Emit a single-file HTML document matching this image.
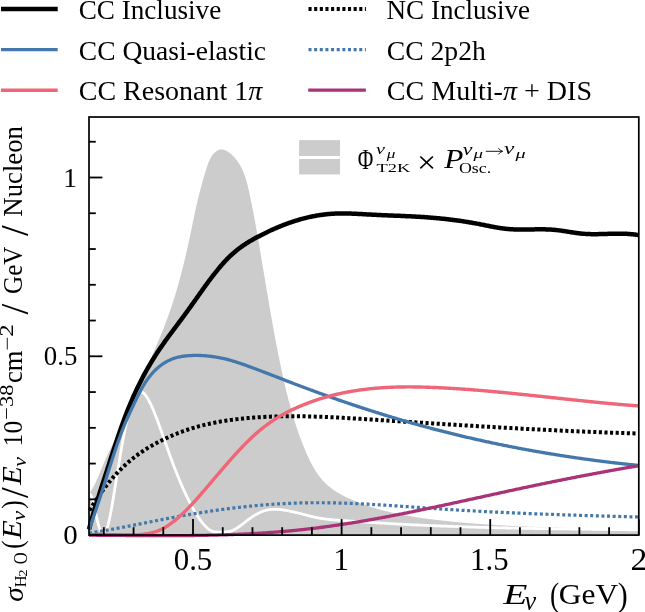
<!DOCTYPE html>
<html><head><meta charset="utf-8"><style>
html,body{margin:0;padding:0;background:#fff;}
body{width:645px;height:612px;overflow:hidden;position:relative;}
svg{position:absolute;left:0;top:0;will-change:transform;}
text{font-family:"Liberation Serif", serif;fill:#000;}
</style></head><body>
<svg width="645" height="612" viewBox="0 0 645 612">
<defs><clipPath id="ax"><rect x="89" y="117" width="549.8" height="418.1"/></clipPath></defs>
<g clip-path="url(#ax)">
<path d="M89.00 535.10 L89.34 493.74 L89.73 493.14 L90.10 492.54 L90.47 491.94 L90.83 491.34 L91.19 490.73 L91.54 490.13 L91.88 489.53 L92.22 488.93 L92.56 488.33 L92.88 487.73 L93.21 487.13 L93.53 486.53 L93.84 485.93 L94.15 485.33 L94.45 484.73 L94.76 484.13 L95.05 483.53 L95.34 482.93 L95.63 482.33 L95.92 481.73 L96.20 481.13 L96.48 480.53 L96.75 479.93 L97.02 479.33 L97.29 478.73 L97.56 478.13 L97.82 477.54 L98.08 476.94 L98.34 476.34 L98.60 475.74 L98.86 475.14 L99.11 474.54 L99.36 473.94 L99.61 473.35 L99.86 472.75 L100.11 472.15 L100.35 471.55 L100.60 470.95 L100.84 470.36 L101.09 469.76 L101.33 469.16 L101.58 468.56 L101.82 467.96 L102.07 467.37 L102.31 466.77 L102.55 466.17 L102.80 465.58 L103.05 464.98 L103.29 464.38 L103.54 463.78 L103.79 463.19 L104.04 462.59 L104.29 461.99 L104.55 461.40 L104.80 460.80 L105.06 460.20 L105.32 459.61 L105.58 459.01 L105.85 458.41 L106.11 457.82 L106.38 457.22 L106.66 456.62 L106.93 456.03 L107.21 455.43 L107.49 454.83 L107.77 454.24 L108.05 453.64 L108.34 453.04 L108.63 452.45 L108.92 451.85 L109.21 451.26 L109.50 450.66 L109.80 450.06 L110.10 449.47 L110.39 448.87 L110.69 448.28 L111.00 447.68 L111.30 447.08 L111.60 446.49 L111.90 445.89 L112.21 445.30 L112.52 444.70 L112.82 444.10 L113.13 443.51 L113.44 442.91 L113.75 442.32 L114.06 441.72 L114.36 441.13 L114.67 440.53 L114.98 439.93 L115.29 439.34 L115.60 438.74 L115.91 438.15 L116.22 437.55 L116.53 436.96 L116.84 436.36 L117.15 435.76 L117.45 435.17 L117.76 434.57 L118.06 433.98 L118.37 433.38 L118.67 432.79 L118.98 432.19 L119.28 431.59 L119.58 431.00 L119.88 430.40 L120.18 429.81 L120.47 429.21 L120.77 428.62 L121.06 428.02 L121.35 427.42 L121.64 426.83 L121.93 426.23 L122.22 425.64 L122.50 425.04 L122.78 424.44 L123.06 423.85 L123.34 423.25 L123.61 422.66 L123.88 422.06 L124.15 421.46 L124.42 420.87 L124.69 420.27 L124.95 419.67 L125.21 419.08 L125.47 418.48 L125.72 417.89 L125.97 417.29 L126.23 416.69 L126.48 416.10 L126.73 415.50 L126.97 414.90 L127.22 414.31 L127.46 413.71 L127.71 413.11 L127.95 412.52 L128.19 411.92 L128.43 411.32 L128.67 410.72 L128.91 410.13 L129.14 409.53 L129.38 408.93 L129.62 408.34 L129.85 407.74 L130.09 407.14 L130.33 406.54 L130.56 405.95 L130.80 405.35 L131.03 404.75 L131.27 404.15 L131.51 403.56 L131.74 402.96 L131.98 402.36 L132.22 401.76 L132.46 401.16 L132.70 400.57 L132.94 399.97 L133.18 399.37 L133.42 398.77 L133.67 398.17 L133.91 397.57 L134.16 396.97 L134.40 396.38 L134.65 395.78 L134.90 395.18 L135.14 394.58 L135.39 393.98 L135.64 393.38 L135.89 392.78 L136.14 392.18 L136.40 391.58 L136.65 390.98 L136.90 390.38 L137.15 389.78 L137.41 389.18 L137.66 388.58 L137.92 387.98 L138.17 387.38 L138.43 386.78 L138.69 386.18 L138.94 385.58 L139.20 384.98 L139.46 384.38 L139.72 383.78 L139.98 383.18 L140.24 382.58 L140.50 381.97 L140.76 381.37 L141.02 380.77 L141.28 380.17 L141.55 379.57 L141.81 378.97 L142.07 378.36 L142.33 377.76 L142.60 377.16 L142.86 376.56 L143.13 375.95 L143.39 375.35 L143.65 374.75 L143.92 374.14 L144.18 373.54 L144.45 372.94 L144.72 372.33 L144.98 371.73 L145.25 371.13 L145.51 370.52 L145.78 369.92 L146.05 369.31 L146.31 368.71 L146.58 368.11 L146.85 367.50 L147.11 366.90 L147.38 366.29 L147.65 365.69 L147.92 365.08 L148.18 364.47 L148.45 363.87 L148.72 363.26 L148.98 362.66 L149.25 362.05 L149.52 361.44 L149.79 360.84 L150.05 360.23 L150.32 359.62 L150.59 359.02 L150.85 358.41 L151.12 357.80 L151.39 357.20 L151.65 356.59 L151.92 355.98 L152.19 355.37 L152.45 354.76 L152.72 354.15 L152.98 353.55 L153.25 352.94 L153.51 352.33 L153.78 351.72 L154.04 351.11 L154.31 350.50 L154.57 349.89 L154.83 349.28 L155.10 348.67 L155.36 348.06 L155.62 347.45 L155.88 346.84 L156.14 346.23 L156.41 345.62 L156.67 345.00 L156.93 344.39 L157.19 343.78 L157.45 343.17 L157.71 342.56 L157.96 341.94 L158.22 341.33 L158.48 340.72 L158.74 340.10 L158.99 339.49 L159.25 338.88 L159.50 338.26 L159.76 337.65 L160.01 337.04 L160.27 336.42 L160.52 335.81 L160.77 335.19 L161.02 334.58 L161.27 333.96 L161.52 333.35 L161.77 332.73 L162.02 332.11 L162.27 331.50 L162.52 330.88 L162.76 330.26 L163.01 329.65 L163.26 329.03 L163.50 328.41 L163.74 327.79 L163.99 327.18 L164.23 326.56 L164.47 325.94 L164.71 325.32 L164.95 324.70 L165.19 324.08 L165.42 323.46 L165.66 322.84 L165.89 322.22 L166.13 321.60 L166.36 320.98 L166.59 320.36 L166.83 319.74 L167.06 319.12 L167.29 318.50 L167.51 317.88 L167.74 317.25 L167.97 316.63 L168.19 316.01 L168.42 315.39 L168.64 314.76 L168.86 314.14 L169.08 313.52 L169.30 312.89 L169.52 312.27 L169.74 311.64 L169.96 311.02 L170.17 310.39 L170.39 309.77 L170.60 309.14 L170.82 308.52 L171.03 307.89 L171.24 307.27 L171.45 306.64 L171.66 306.01 L171.87 305.39 L172.07 304.76 L172.28 304.13 L172.49 303.51 L172.69 302.88 L172.89 302.25 L173.10 301.62 L173.30 300.99 L173.50 300.36 L173.70 299.74 L173.90 299.11 L174.10 298.48 L174.29 297.85 L174.49 297.22 L174.69 296.59 L174.88 295.96 L175.07 295.33 L175.27 294.70 L175.46 294.07 L175.65 293.44 L175.84 292.81 L176.03 292.18 L176.22 291.54 L176.40 290.91 L176.59 290.28 L176.78 289.65 L176.96 289.02 L177.15 288.39 L177.33 287.75 L177.51 287.12 L177.70 286.49 L177.88 285.86 L178.06 285.22 L178.24 284.59 L178.42 283.96 L178.59 283.32 L178.77 282.69 L178.95 282.06 L179.12 281.42 L179.30 280.79 L179.47 280.15 L179.65 279.52 L179.82 278.88 L179.99 278.25 L180.16 277.61 L180.33 276.98 L180.50 276.34 L180.67 275.71 L180.84 275.07 L181.01 274.44 L181.18 273.80 L181.34 273.17 L181.51 272.53 L181.67 271.90 L181.84 271.26 L182.00 270.62 L182.16 269.99 L182.33 269.35 L182.49 268.71 L182.65 268.08 L182.81 267.44 L182.97 266.80 L183.13 266.17 L183.29 265.53 L183.44 264.89 L183.60 264.26 L183.76 263.62 L183.91 262.98 L184.07 262.34 L184.22 261.71 L184.38 261.07 L184.53 260.43 L184.69 259.79 L184.84 259.15 L184.99 258.52 L185.14 257.88 L185.29 257.24 L185.44 256.60 L185.59 255.96 L185.74 255.33 L185.89 254.69 L186.04 254.05 L186.19 253.41 L186.33 252.77 L186.48 252.13 L186.63 251.49 L186.77 250.85 L186.92 250.22 L187.06 249.58 L187.21 248.94 L187.35 248.30 L187.49 247.66 L187.63 247.02 L187.78 246.38 L187.92 245.74 L188.06 245.10 L188.20 244.46 L188.34 243.83 L188.48 243.19 L188.62 242.55 L188.76 241.91 L188.90 241.27 L189.04 240.63 L189.17 239.99 L189.31 239.35 L189.45 238.71 L189.58 238.07 L189.72 237.43 L189.86 236.79 L189.99 236.15 L190.13 235.51 L190.26 234.87 L190.40 234.23 L190.53 233.59 L190.67 232.95 L190.80 232.32 L190.93 231.68 L191.07 231.04 L191.20 230.40 L191.33 229.76 L191.47 229.12 L191.60 228.48 L191.73 227.84 L191.87 227.20 L192.00 226.56 L192.13 225.92 L192.27 225.28 L192.40 224.64 L192.53 224.00 L192.67 223.36 L192.80 222.72 L192.93 222.09 L193.07 221.45 L193.20 220.81 L193.33 220.17 L193.47 219.53 L193.60 218.89 L193.74 218.25 L193.87 217.61 L194.01 216.97 L194.14 216.34 L194.28 215.70 L194.41 215.06 L194.55 214.42 L194.69 213.78 L194.83 213.14 L194.96 212.50 L195.10 211.87 L195.24 211.23 L195.38 210.59 L195.52 209.95 L195.66 209.31 L195.80 208.68 L195.94 208.04 L196.08 207.40 L196.22 206.76 L196.36 206.12 L196.51 205.49 L196.65 204.85 L196.80 204.21 L196.94 203.58 L197.09 202.94 L197.23 202.30 L197.38 201.66 L197.53 201.03 L197.68 200.39 L197.83 199.75 L197.98 199.12 L198.13 198.48 L198.28 197.85 L198.44 197.21 L198.59 196.57 L198.75 195.94 L198.90 195.30 L199.06 194.67 L199.22 194.03 L199.37 193.39 L199.53 192.76 L199.70 192.12 L199.86 191.49 L200.02 190.85 L200.18 190.22 L200.35 189.59 L200.52 188.95 L200.68 188.32 L200.85 187.68 L201.02 187.05 L201.19 186.41 L201.36 185.78 L201.54 185.14 L201.71 184.51 L201.89 183.87 L202.06 183.23 L202.24 182.59 L202.42 181.96 L202.60 181.32 L202.78 180.68 L202.97 180.04 L203.15 179.40 L203.34 178.76 L203.52 178.11 L203.71 177.47 L203.90 176.82 L204.09 176.18 L204.28 175.53 L204.47 174.88 L204.67 174.23 L204.87 173.58 L205.06 172.92 L205.26 172.27 L205.46 171.61 L205.66 170.95 L205.87 170.30 L206.07 169.63 L206.28 168.97 L206.48 168.31 L206.69 167.64 L206.91 166.98 L207.13 166.31 L207.35 165.65 L207.57 164.99 L207.81 164.34 L208.05 163.68 L208.29 163.03 L208.54 162.39 L208.80 161.75 L209.07 161.12 L209.34 160.50 L209.63 159.88 L209.93 159.27 L210.23 158.67 L210.55 158.08 L210.88 157.50 L211.22 156.93 L211.57 156.37 L211.93 155.82 L212.31 155.29 L212.71 154.77 L213.11 154.26 L213.54 153.77 L213.97 153.30 L214.42 152.85 L214.88 152.41 L215.36 152.00 L215.84 151.61 L216.33 151.25 L216.84 150.92 L217.35 150.61 L217.87 150.34 L218.40 150.10 L218.93 149.89 L219.48 149.72 L220.02 149.59 L220.57 149.49 L221.13 149.44 L221.69 149.43 L222.25 149.46 L222.82 149.53 L223.38 149.64 L223.95 149.79 L224.52 149.97 L225.08 150.18 L225.65 150.43 L226.21 150.70 L226.77 151.00 L227.33 151.32 L227.88 151.67 L228.43 152.03 L228.98 152.42 L229.51 152.82 L230.05 153.24 L230.57 153.68 L231.09 154.12 L231.59 154.57 L232.09 155.04 L232.58 155.50 L233.06 155.98 L233.53 156.46 L233.99 156.94 L234.44 157.43 L234.88 157.93 L235.31 158.43 L235.73 158.94 L236.15 159.45 L236.55 159.97 L236.95 160.49 L237.34 161.02 L237.72 161.55 L238.09 162.09 L238.45 162.63 L238.81 163.17 L239.16 163.73 L239.50 164.28 L239.83 164.84 L240.16 165.40 L240.48 165.97 L240.79 166.54 L241.09 167.12 L241.39 167.69 L241.68 168.28 L241.97 168.86 L242.24 169.45 L242.52 170.05 L242.78 170.64 L243.04 171.24 L243.30 171.85 L243.55 172.45 L243.79 173.06 L244.03 173.67 L244.26 174.29 L244.49 174.90 L244.71 175.52 L244.93 176.15 L245.14 176.77 L245.35 177.40 L245.56 178.03 L245.76 178.66 L245.95 179.29 L246.14 179.93 L246.33 180.56 L246.52 181.20 L246.70 181.84 L246.88 182.48 L247.05 183.13 L247.22 183.77 L247.39 184.42 L247.55 185.07 L247.72 185.71 L247.88 186.36 L248.03 187.01 L248.19 187.67 L248.34 188.32 L248.49 188.97 L248.64 189.62 L248.79 190.28 L248.93 190.93 L249.08 191.58 L249.22 192.24 L249.36 192.89 L249.50 193.55 L249.64 194.20 L249.78 194.85 L249.91 195.51 L250.05 196.16 L250.19 196.81 L250.32 197.47 L250.46 198.12 L250.59 198.77 L250.73 199.42 L250.86 200.08 L250.99 200.73 L251.13 201.38 L251.26 202.03 L251.39 202.68 L251.52 203.33 L251.65 203.98 L251.78 204.63 L251.91 205.28 L252.04 205.93 L252.17 206.58 L252.29 207.22 L252.42 207.87 L252.55 208.52 L252.67 209.17 L252.80 209.82 L252.93 210.46 L253.05 211.11 L253.17 211.76 L253.30 212.41 L253.42 213.05 L253.54 213.70 L253.67 214.35 L253.79 214.99 L253.91 215.64 L254.03 216.28 L254.15 216.93 L254.27 217.58 L254.39 218.22 L254.51 218.87 L254.63 219.51 L254.75 220.16 L254.87 220.80 L254.99 221.45 L255.11 222.09 L255.23 222.74 L255.34 223.38 L255.46 224.03 L255.58 224.67 L255.69 225.32 L255.81 225.96 L255.93 226.61 L256.04 227.25 L256.16 227.90 L256.27 228.54 L256.39 229.18 L256.50 229.83 L256.61 230.47 L256.73 231.12 L256.84 231.76 L256.96 232.41 L257.07 233.05 L257.18 233.70 L257.30 234.34 L257.41 234.98 L257.52 235.63 L257.63 236.27 L257.75 236.92 L257.86 237.56 L257.97 238.21 L258.08 238.85 L258.19 239.50 L258.30 240.14 L258.41 240.79 L258.53 241.43 L258.64 242.08 L258.75 242.72 L258.86 243.37 L258.97 244.01 L259.08 244.66 L259.19 245.30 L259.30 245.95 L259.41 246.60 L259.52 247.24 L259.63 247.89 L259.74 248.53 L259.85 249.18 L259.96 249.83 L260.07 250.47 L260.18 251.12 L260.29 251.77 L260.40 252.41 L260.51 253.06 L260.62 253.71 L260.73 254.35 L260.84 255.00 L260.95 255.65 L261.05 256.30 L261.16 256.94 L261.27 257.59 L261.38 258.24 L261.49 258.89 L261.60 259.53 L261.71 260.18 L261.82 260.83 L261.93 261.48 L262.03 262.13 L262.14 262.77 L262.25 263.42 L262.36 264.07 L262.47 264.72 L262.58 265.37 L262.69 266.02 L262.79 266.66 L262.90 267.31 L263.01 267.96 L263.12 268.61 L263.23 269.26 L263.34 269.91 L263.44 270.56 L263.55 271.20 L263.66 271.85 L263.77 272.50 L263.88 273.15 L263.99 273.80 L264.10 274.45 L264.20 275.10 L264.31 275.75 L264.42 276.40 L264.53 277.05 L264.64 277.70 L264.75 278.35 L264.85 279.00 L264.96 279.65 L265.07 280.29 L265.18 280.94 L265.29 281.59 L265.40 282.24 L265.51 282.89 L265.62 283.54 L265.73 284.19 L265.83 284.84 L265.94 285.49 L266.05 286.14 L266.16 286.79 L266.27 287.44 L266.38 288.09 L266.49 288.74 L266.60 289.39 L266.71 290.04 L266.82 290.69 L266.93 291.34 L267.04 291.99 L267.15 292.64 L267.26 293.29 L267.37 293.94 L267.48 294.59 L267.59 295.24 L267.70 295.89 L267.81 296.54 L267.92 297.19 L268.03 297.84 L268.14 298.49 L268.25 299.14 L268.36 299.79 L268.47 300.44 L268.58 301.09 L268.69 301.74 L268.80 302.39 L268.92 303.04 L269.03 303.69 L269.14 304.34 L269.25 304.99 L269.36 305.64 L269.47 306.29 L269.59 306.94 L269.70 307.59 L269.81 308.24 L269.92 308.89 L270.04 309.54 L270.15 310.19 L270.26 310.84 L270.37 311.49 L270.49 312.14 L270.60 312.79 L270.71 313.44 L270.83 314.09 L270.94 314.74 L271.06 315.39 L271.17 316.04 L271.29 316.69 L271.40 317.34 L271.51 317.99 L271.63 318.64 L271.74 319.29 L271.86 319.94 L271.98 320.59 L272.09 321.24 L272.21 321.89 L272.32 322.54 L272.44 323.19 L272.56 323.84 L272.67 324.49 L272.79 325.14 L272.91 325.78 L273.02 326.43 L273.14 327.08 L273.26 327.73 L273.38 328.38 L273.49 329.03 L273.61 329.68 L273.73 330.33 L273.85 330.98 L273.97 331.62 L274.09 332.27 L274.21 332.92 L274.33 333.57 L274.45 334.22 L274.57 334.87 L274.69 335.52 L274.81 336.16 L274.93 336.81 L275.05 337.46 L275.17 338.11 L275.29 338.76 L275.42 339.40 L275.54 340.05 L275.66 340.70 L275.78 341.35 L275.91 341.99 L276.03 342.64 L276.15 343.29 L276.28 343.94 L276.40 344.58 L276.53 345.23 L276.65 345.88 L276.78 346.53 L276.90 347.17 L277.03 347.82 L277.15 348.47 L277.28 349.11 L277.40 349.76 L277.53 350.41 L277.66 351.05 L277.79 351.70 L277.91 352.34 L278.04 352.99 L278.17 353.64 L278.30 354.28 L278.43 354.93 L278.56 355.57 L278.68 356.22 L278.81 356.86 L278.94 357.51 L279.08 358.15 L279.21 358.80 L279.34 359.44 L279.47 360.09 L279.60 360.73 L279.73 361.38 L279.86 362.02 L280.00 362.67 L280.13 363.31 L280.26 363.96 L280.40 364.60 L280.53 365.24 L280.67 365.89 L280.80 366.53 L280.94 367.17 L281.07 367.82 L281.21 368.46 L281.35 369.10 L281.48 369.75 L281.62 370.39 L281.76 371.03 L281.90 371.68 L282.03 372.32 L282.17 372.96 L282.31 373.60 L282.45 374.24 L282.59 374.89 L282.73 375.53 L282.88 376.17 L283.02 376.81 L283.16 377.45 L283.30 378.09 L283.45 378.73 L283.59 379.38 L283.74 380.02 L283.88 380.66 L284.03 381.30 L284.17 381.94 L284.32 382.58 L284.47 383.22 L284.61 383.86 L284.76 384.50 L284.91 385.14 L285.06 385.78 L285.21 386.41 L285.36 387.05 L285.51 387.69 L285.67 388.33 L285.82 388.97 L285.97 389.61 L286.13 390.25 L286.28 390.88 L286.44 391.52 L286.59 392.16 L286.75 392.80 L286.91 393.43 L287.07 394.07 L287.23 394.71 L287.39 395.34 L287.55 395.98 L287.71 396.62 L287.87 397.25 L288.03 397.89 L288.20 398.52 L288.36 399.16 L288.53 399.80 L288.69 400.43 L288.86 401.07 L289.03 401.70 L289.20 402.34 L289.37 402.97 L289.54 403.60 L289.71 404.24 L289.88 404.87 L290.05 405.51 L290.23 406.14 L290.40 406.77 L290.58 407.41 L290.75 408.04 L290.93 408.67 L291.11 409.30 L291.29 409.93 L291.47 410.57 L291.65 411.20 L291.83 411.83 L292.01 412.46 L292.20 413.09 L292.38 413.72 L292.57 414.35 L292.75 414.98 L292.94 415.61 L293.13 416.24 L293.32 416.87 L293.51 417.50 L293.70 418.13 L293.89 418.76 L294.09 419.39 L294.28 420.02 L294.48 420.65 L294.68 421.28 L294.87 421.90 L295.07 422.53 L295.27 423.16 L295.47 423.79 L295.68 424.41 L295.88 425.04 L296.09 425.67 L296.29 426.29 L296.50 426.92 L296.71 427.55 L296.92 428.17 L297.13 428.80 L297.34 429.42 L297.55 430.05 L297.76 430.67 L297.98 431.29 L298.20 431.92 L298.41 432.54 L298.63 433.17 L298.85 433.79 L299.07 434.41 L299.30 435.04 L299.52 435.66 L299.74 436.28 L299.97 436.90 L300.20 437.52 L300.43 438.14 L300.66 438.77 L300.89 439.39 L301.12 440.01 L301.36 440.63 L301.59 441.25 L301.83 441.87 L302.07 442.49 L302.31 443.11 L302.55 443.73 L302.79 444.34 L303.03 444.96 L303.28 445.58 L303.52 446.20 L303.77 446.82 L304.02 447.43 L304.27 448.05 L304.52 448.67 L304.78 449.28 L305.03 449.90 L305.29 450.51 L305.55 451.13 L305.81 451.74 L306.07 452.36 L306.33 452.97 L306.60 453.58 L306.87 454.19 L307.14 454.80 L307.41 455.41 L307.68 456.02 L307.96 456.62 L308.24 457.23 L308.52 457.83 L308.80 458.43 L309.09 459.03 L309.38 459.63 L309.67 460.22 L309.96 460.82 L310.26 461.41 L310.55 462.00 L310.86 462.59 L311.16 463.18 L311.47 463.76 L311.78 464.35 L312.09 464.93 L312.41 465.50 L312.73 466.08 L313.05 466.65 L313.38 467.22 L313.71 467.79 L314.04 468.35 L314.38 468.92 L314.72 469.47 L315.06 470.03 L315.41 470.58 L315.76 471.13 L316.11 471.68 L316.47 472.22 L316.83 472.76 L317.20 473.30 L317.57 473.83 L317.94 474.36 L318.32 474.89 L318.70 475.41 L319.09 475.93 L319.48 476.44 L319.87 476.96 L320.27 477.46 L320.67 477.97 L321.08 478.46 L321.50 478.96 L321.91 479.45 L322.33 479.93 L322.76 480.42 L323.19 480.89 L323.63 481.36 L324.07 481.83 L324.52 482.29 L324.97 482.75 L325.42 483.21 L325.89 483.65 L326.35 484.10 L326.82 484.54 L327.30 484.97 L327.78 485.40 L328.27 485.82 L328.76 486.24 L329.26 486.65 L329.76 487.06 L330.27 487.46 L330.78 487.86 L331.30 488.25 L331.82 488.64 L332.34 489.03 L332.87 489.41 L333.40 489.78 L333.94 490.16 L334.48 490.52 L335.03 490.89 L335.58 491.24 L336.13 491.60 L336.68 491.95 L337.24 492.30 L337.81 492.64 L338.37 492.98 L338.94 493.31 L339.51 493.64 L340.09 493.97 L340.66 494.29 L341.24 494.61 L341.83 494.93 L342.41 495.24 L343.00 495.55 L343.59 495.86 L344.18 496.16 L344.78 496.46 L345.38 496.76 L345.97 497.05 L346.58 497.34 L347.18 497.63 L347.78 497.92 L348.39 498.20 L349.00 498.48 L349.60 498.75 L350.21 499.03 L350.83 499.30 L351.44 499.56 L352.05 499.83 L352.67 500.09 L353.28 500.35 L353.90 500.61 L354.51 500.87 L355.13 501.12 L355.75 501.37 L356.36 501.62 L356.98 501.87 L357.60 502.12 L358.22 502.36 L358.84 502.60 L359.46 502.84 L360.08 503.08 L360.70 503.31 L361.32 503.54 L361.94 503.77 L362.57 504.00 L363.19 504.23 L363.81 504.45 L364.43 504.68 L365.06 504.90 L365.68 505.11 L366.31 505.33 L366.93 505.55 L367.56 505.76 L368.18 505.97 L368.81 506.18 L369.44 506.38 L370.06 506.59 L370.69 506.79 L371.32 506.99 L371.95 507.19 L372.58 507.39 L373.21 507.58 L373.83 507.78 L374.46 507.97 L375.09 508.16 L375.73 508.35 L376.36 508.54 L376.99 508.72 L377.62 508.90 L378.25 509.09 L378.88 509.26 L379.52 509.44 L380.15 509.62 L380.78 509.79 L381.42 509.97 L382.05 510.14 L382.68 510.31 L383.32 510.48 L383.95 510.64 L384.59 510.81 L385.23 510.97 L385.86 511.13 L386.50 511.29 L387.13 511.45 L387.77 511.61 L388.41 511.76 L389.05 511.92 L389.68 512.07 L390.32 512.22 L390.96 512.37 L391.60 512.52 L392.24 512.66 L392.88 512.81 L393.52 512.95 L394.16 513.09 L394.80 513.23 L395.44 513.37 L396.08 513.51 L396.72 513.65 L397.36 513.78 L398.00 513.92 L398.65 514.05 L399.29 514.18 L399.93 514.31 L400.57 514.44 L401.22 514.57 L401.86 514.70 L402.50 514.82 L403.15 514.94 L403.79 515.07 L404.43 515.19 L405.08 515.31 L405.72 515.43 L406.37 515.54 L407.01 515.66 L407.66 515.78 L408.30 515.89 L408.95 516.00 L409.60 516.12 L410.24 516.23 L410.89 516.34 L411.53 516.45 L412.18 516.55 L412.83 516.66 L413.48 516.77 L414.12 516.87 L414.77 516.97 L415.42 517.08 L416.07 517.18 L416.72 517.28 L417.36 517.38 L418.01 517.48 L418.66 517.58 L419.31 517.67 L419.96 517.77 L420.61 517.86 L421.26 517.96 L421.91 518.05 L422.56 518.14 L423.21 518.24 L423.86 518.33 L424.51 518.42 L425.16 518.51 L425.81 518.59 L426.46 518.68 L427.11 518.77 L427.76 518.86 L428.41 518.94 L429.06 519.03 L429.71 519.11 L430.37 519.19 L431.02 519.28 L431.67 519.36 L432.32 519.44 L432.97 519.52 L433.63 519.60 L434.28 519.68 L434.93 519.76 L435.58 519.83 L436.23 519.91 L436.89 519.99 L437.54 520.07 L438.19 520.14 L438.85 520.22 L439.50 520.29 L440.15 520.37 L440.80 520.44 L441.46 520.51 L442.11 520.58 L442.76 520.66 L443.42 520.73 L444.07 520.80 L444.73 520.87 L445.38 520.94 L446.03 521.01 L446.69 521.08 L447.34 521.15 L447.99 521.22 L448.65 521.28 L449.30 521.35 L449.96 521.42 L450.61 521.49 L451.27 521.55 L451.92 521.62 L452.57 521.68 L453.23 521.75 L453.88 521.81 L454.54 521.87 L455.19 521.94 L455.85 522.00 L456.50 522.06 L457.16 522.12 L457.81 522.19 L458.47 522.25 L459.12 522.31 L459.78 522.37 L460.43 522.43 L461.09 522.49 L461.75 522.54 L462.40 522.60 L463.06 522.66 L463.71 522.72 L464.37 522.77 L465.02 522.83 L465.68 522.89 L466.34 522.94 L466.99 523.00 L467.65 523.05 L468.30 523.11 L468.96 523.16 L469.62 523.22 L470.27 523.27 L470.93 523.32 L471.59 523.37 L472.24 523.43 L472.90 523.48 L473.55 523.53 L474.21 523.58 L474.87 523.63 L475.52 523.68 L476.18 523.73 L476.84 523.78 L477.50 523.83 L478.15 523.88 L478.81 523.93 L479.47 523.97 L480.12 524.02 L480.78 524.07 L481.44 524.12 L482.10 524.16 L482.75 524.21 L483.41 524.25 L484.07 524.30 L484.72 524.34 L485.38 524.39 L486.04 524.43 L486.70 524.48 L487.36 524.52 L488.01 524.56 L488.67 524.61 L489.33 524.65 L489.99 524.69 L490.64 524.73 L491.30 524.77 L491.96 524.82 L492.62 524.86 L493.28 524.90 L493.93 524.94 L494.59 524.98 L495.25 525.02 L495.91 525.06 L496.57 525.09 L497.23 525.13 L497.88 525.17 L498.54 525.21 L499.20 525.25 L499.86 525.28 L500.52 525.32 L501.18 525.36 L501.83 525.39 L502.49 525.43 L503.15 525.47 L503.81 525.50 L504.47 525.54 L505.13 525.57 L505.79 525.61 L506.44 525.64 L507.10 525.68 L507.76 525.71 L508.42 525.74 L509.08 525.78 L509.74 525.81 L510.40 525.84 L511.06 525.88 L511.72 525.91 L512.37 525.94 L513.03 525.97 L513.69 526.00 L514.35 526.03 L515.01 526.06 L515.67 526.10 L516.33 526.13 L516.99 526.16 L517.65 526.19 L518.31 526.22 L518.97 526.25 L519.63 526.27 L520.28 526.30 L520.94 526.33 L521.60 526.36 L522.26 526.39 L522.92 526.42 L523.58 526.45 L524.24 526.47 L524.90 526.50 L525.56 526.53 L526.22 526.55 L526.88 526.58 L527.54 526.61 L528.20 526.63 L528.86 526.66 L529.52 526.69 L530.18 526.71 L530.84 526.74 L531.49 526.76 L532.15 526.79 L532.81 526.81 L533.47 526.84 L534.13 526.86 L534.79 526.89 L535.45 526.91 L536.11 526.93 L536.77 526.96 L537.43 526.98 L538.09 527.01 L538.75 527.03 L539.41 527.05 L540.07 527.07 L540.73 527.10 L541.39 527.12 L542.05 527.14 L542.71 527.16 L543.37 527.19 L544.03 527.21 L544.69 527.23 L545.35 527.25 L546.01 527.27 L546.67 527.30 L547.33 527.32 L547.98 527.34 L548.64 527.36 L549.30 527.38 L549.96 527.40 L550.62 527.42 L551.28 527.44 L551.94 527.46 L552.60 527.48 L553.26 527.50 L553.92 527.52 L554.58 527.54 L555.24 527.56 L555.90 527.58 L556.56 527.60 L557.22 527.62 L557.88 527.64 L558.54 527.66 L559.20 527.68 L559.86 527.69 L560.52 527.71 L561.18 527.73 L561.84 527.75 L562.49 527.77 L563.15 527.79 L563.81 527.81 L564.47 527.82 L565.13 527.84 L565.79 527.86 L566.45 527.88 L567.11 527.90 L567.77 527.91 L568.43 527.93 L569.09 527.95 L569.75 527.97 L570.41 527.98 L571.07 528.00 L571.73 528.02 L572.38 528.04 L573.04 528.05 L573.70 528.07 L574.36 528.09 L575.02 528.10 L575.68 528.12 L576.34 528.14 L577.00 528.16 L577.66 528.17 L578.32 528.19 L578.98 528.21 L579.63 528.22 L580.29 528.24 L580.95 528.26 L581.61 528.27 L582.27 528.29 L582.93 528.31 L583.59 528.32 L584.25 528.34 L584.90 528.36 L585.56 528.37 L586.22 528.39 L586.88 528.41 L587.54 528.42 L588.20 528.44 L588.86 528.46 L589.51 528.47 L590.17 528.49 L590.83 528.50 L591.49 528.52 L592.15 528.54 L592.81 528.55 L593.46 528.57 L594.12 528.59 L594.78 528.60 L595.44 528.62 L596.10 528.64 L596.76 528.65 L597.41 528.67 L598.07 528.69 L598.73 528.70 L599.39 528.72 L600.04 528.74 L600.70 528.75 L601.36 528.77 L602.02 528.79 L602.68 528.80 L603.33 528.82 L603.99 528.84 L604.65 528.85 L605.31 528.87 L605.96 528.89 L606.62 528.91 L607.28 528.92 L607.94 528.94 L608.59 528.96 L609.25 528.98 L609.91 528.99 L610.56 529.01 L611.22 529.03 L611.88 529.05 L612.53 529.06 L613.19 529.08 L613.85 529.10 L614.50 529.12 L615.16 529.13 L615.82 529.15 L616.47 529.17 L617.13 529.19 L617.79 529.21 L618.44 529.23 L619.10 529.25 L619.76 529.26 L620.41 529.28 L621.07 529.30 L621.73 529.32 L622.38 529.34 L623.04 529.36 L623.69 529.38 L624.35 529.40 L625.01 529.42 L625.66 529.44 L626.32 529.46 L626.97 529.48 L627.63 529.50 L628.28 529.52 L628.94 529.54 L629.59 529.56 L630.25 529.58 L630.90 529.60 L631.56 529.62 L632.21 529.64 L632.87 529.66 L633.52 529.68 L634.18 529.70 L634.83 529.73 L635.49 529.75 L636.14 529.77 L636.80 529.79 L637.45 529.81 L638.11 529.84 L638.76 529.86 L638.80 535.10 Z" fill="#cccccc" stroke="none"/>
<path d="M89.00 494.32 L89.50 494.10 L90.00 494.25 L90.50 494.74 L91.00 495.56 L91.50 496.67 L92.00 498.04 L92.50 499.65 L93.00 501.45 L93.50 503.42 L94.00 505.52 L94.50 507.71 L95.00 509.97 L95.50 512.26 L96.00 514.55 L96.50 516.81 L97.00 519.01 L97.50 521.13 L98.00 523.14 L98.50 525.01 L99.00 526.71 L99.50 528.23 L100.00 529.52 L100.50 530.55 L101.00 531.29 L101.50 531.75 L102.00 531.98 L102.50 532.05 L103.00 532.06 L103.50 532.06 L104.00 532.05 L104.50 531.98 L105.00 531.77 L105.50 531.33 L106.00 530.60 L106.50 529.57 L107.00 528.28 L107.50 526.76 L108.00 525.02 L108.50 523.09 L109.00 521.00 L109.50 518.75 L110.00 516.36 L110.50 513.85 L111.00 511.22 L111.50 508.50 L112.00 505.69 L112.50 502.80 L113.00 499.85 L113.50 496.84 L114.00 493.79 L114.50 490.70 L115.00 487.59 L115.50 484.46 L116.00 481.32 L116.50 478.18 L117.00 475.04 L117.50 471.92 L118.00 468.81 L118.50 465.73 L119.00 462.68 L119.50 459.66 L120.00 456.68 L120.50 453.75 L121.00 450.85 L121.50 448.01 L122.00 445.21 L122.50 442.47 L123.00 439.78 L123.50 437.15 L124.00 434.57 L124.50 432.05 L125.00 429.59 L125.50 427.18 L126.00 424.84 L126.50 422.56 L127.00 420.34 L127.50 418.19 L128.00 416.12 L128.50 414.12 L129.00 412.19 L129.50 410.34 L130.00 408.57 L130.50 406.89 L131.00 405.29 L131.50 403.78 L132.00 402.36 L132.50 401.03 L133.00 399.80 L133.50 398.66 L134.00 397.62 L134.50 396.66 L135.00 395.79 L135.50 395.02 L136.00 394.32 L136.50 393.72 L137.00 393.19 L137.50 392.75 L138.00 392.39 L138.50 392.11 L139.00 391.90 L139.50 391.77 L140.00 391.71 L140.50 391.72 L141.00 391.79 L141.50 391.94 L142.00 392.15 L142.50 392.42 L143.00 392.75 L143.50 393.15 L144.00 393.59 L144.50 394.10 L145.00 394.65 L145.50 395.26 L146.00 395.92 L146.50 396.62 L147.00 397.37 L147.50 398.16 L148.00 399.00 L148.50 399.88 L149.00 400.79 L149.50 401.74 L150.00 402.73 L150.50 403.75 L151.00 404.80 L151.50 405.88 L152.00 406.99 L152.50 408.13 L153.00 409.29 L153.50 410.48 L154.00 411.69 L154.50 412.92 L155.00 414.17 L155.50 415.44 L156.00 416.73 L156.50 418.04 L157.00 419.36 L157.50 420.69 L158.00 422.04 L158.50 423.40 L159.00 424.76 L159.50 426.14 L160.00 427.53 L160.50 428.92 L161.00 430.32 L161.50 431.73 L162.00 433.14 L162.50 434.55 L163.00 435.97 L163.50 437.39 L164.00 438.80 L164.50 440.22 L165.00 441.64 L165.50 443.06 L166.00 444.47 L166.50 445.89 L167.00 447.30 L167.50 448.70 L168.00 450.10 L168.50 451.49 L169.00 452.88 L169.50 454.27 L170.00 455.64 L170.50 457.01 L171.00 458.38 L171.50 459.73 L172.00 461.08 L172.50 462.42 L173.00 463.75 L173.50 465.07 L174.00 466.38 L174.50 467.69 L175.00 468.98 L175.50 470.27 L176.00 471.55 L176.50 472.81 L177.00 474.07 L177.50 475.31 L178.00 476.55 L178.50 477.78 L179.00 478.99 L179.50 480.19 L180.00 481.39 L180.50 482.57 L181.00 483.74 L181.50 484.90 L182.00 486.04 L182.50 487.18 L183.00 488.31 L183.50 489.42 L184.00 490.52 L184.50 491.61 L185.00 492.69 L185.50 493.76 L186.00 494.81 L186.50 495.85 L187.00 496.89 L187.50 497.90 L188.00 498.91 L188.50 499.91 L189.00 500.89 L189.50 501.86 L190.00 502.82 L190.50 503.77 L191.00 504.71 L191.50 505.63 L192.00 506.55 L192.50 507.45 L193.00 508.34 L193.50 509.23 L194.00 510.10 L194.50 510.96 L195.00 511.81 L195.50 512.65 L196.00 513.47 L196.50 514.29 L197.00 515.09 L197.50 515.88 L198.00 516.66 L198.50 517.42 L199.00 518.17 L199.50 518.90 L200.00 519.62 L200.50 520.32 L201.00 521.01 L201.50 521.67 L202.00 522.33 L202.50 522.96 L203.00 523.57 L203.50 524.17 L204.00 524.75 L204.50 525.30 L205.00 525.84 L205.50 526.36 L206.00 526.85 L206.50 527.33 L207.00 527.78 L207.50 528.21 L208.00 528.62 L208.50 529.01 L209.00 529.38 L209.50 529.72 L210.00 530.04 L210.50 530.33 L211.00 530.60 L211.50 530.84 L212.00 531.06 L212.50 531.25 L213.00 531.41 L213.50 531.55 L214.00 531.67 L214.50 531.77 L215.00 531.85 L215.50 531.91 L216.00 531.96 L216.50 531.99 L217.00 532.02 L217.50 532.04 L218.00 532.05 L218.50 532.05 L219.00 532.06 L219.50 532.06 L220.00 532.06 L220.50 532.06 L221.00 532.06 L221.50 532.06 L222.00 532.06 L222.50 532.06 L223.00 532.06 L223.50 532.05 L224.00 532.05 L224.50 532.04 L225.00 532.02 L225.50 532.00 L226.00 531.97 L226.50 531.94 L227.00 531.89 L227.50 531.83 L228.00 531.76 L228.50 531.67 L229.00 531.57 L229.50 531.46 L230.00 531.33 L230.50 531.18 L231.00 531.02 L231.50 530.85 L232.00 530.66 L232.50 530.45 L233.00 530.23 L233.50 530.00 L234.00 529.75 L234.50 529.49 L235.00 529.22 L235.50 528.94 L236.00 528.65 L236.50 528.35 L237.00 528.04 L237.50 527.71 L238.00 527.38 L238.50 527.05 L239.00 526.70 L239.50 526.35 L240.00 525.99 L240.50 525.63 L241.00 525.26 L241.50 524.88 L242.00 524.50 L242.50 524.12 L243.00 523.73 L243.50 523.34 L244.00 522.95 L244.50 522.56 L245.00 522.17 L245.50 521.78 L246.00 521.39 L246.50 521.00 L247.00 520.61 L247.50 520.23 L248.00 519.85 L248.50 519.48 L249.00 519.11 L249.50 518.75 L250.00 518.39 L250.50 518.04 L251.00 517.69 L251.50 517.34 L252.00 517.00 L252.50 516.66 L253.00 516.33 L253.50 516.01 L254.00 515.69 L254.50 515.38 L255.00 515.08 L255.50 514.78 L256.00 514.49 L256.50 514.21 L257.00 513.93 L257.50 513.66 L258.00 513.40 L258.50 513.15 L259.00 512.91 L259.50 512.67 L260.00 512.44 L260.50 512.22 L261.00 512.01 L261.50 511.81 L262.00 511.61 L262.50 511.43 L263.00 511.25 L263.50 511.08 L264.00 510.91 L264.50 510.76 L265.00 510.62 L265.50 510.48 L266.00 510.35 L266.50 510.23 L267.00 510.11 L267.50 510.01 L268.00 509.91 L268.50 509.82 L269.00 509.74 L269.50 509.66 L270.00 509.60 L270.50 509.54 L271.00 509.48 L271.50 509.43 L272.00 509.39 L272.50 509.36 L273.00 509.33 L273.50 509.31 L274.00 509.30 L274.50 509.29 L275.00 509.28 L275.50 509.29 L276.00 509.30 L276.50 509.31 L277.00 509.33 L277.50 509.35 L278.00 509.38 L278.50 509.42 L279.00 509.45 L279.50 509.50 L280.00 509.55 L280.50 509.60 L281.00 509.66 L281.50 509.72 L282.00 509.79 L282.50 509.85 L283.00 509.93 L283.50 510.00 L284.00 510.08 L284.50 510.16 L285.00 510.25 L285.50 510.33 L286.00 510.42 L286.50 510.51 L287.00 510.61 L287.50 510.70 L288.00 510.80 L288.50 510.89 L289.00 510.99 L289.50 511.09 L290.00 511.20 L290.50 511.30 L291.00 511.41 L291.50 511.51 L292.00 511.62 L292.50 511.73 L293.00 511.84 L293.50 511.95 L294.00 512.06 L294.50 512.18 L295.00 512.29 L295.50 512.41 L296.00 512.52 L296.50 512.64 L297.00 512.76 L297.50 512.88 L298.00 513.00 L298.50 513.12 L299.00 513.25 L299.50 513.37 L300.00 513.49 L300.50 513.62 L301.00 513.75 L301.50 513.87 L302.00 514.00 L302.50 514.13 L303.00 514.26 L303.50 514.39 L304.00 514.53 L304.50 514.66 L305.00 514.79 L305.50 514.93 L306.00 515.06 L306.50 515.20 L307.00 515.33 L307.50 515.46 L308.00 515.59 L308.50 515.72 L309.00 515.85 L309.50 515.98 L310.00 516.11 L310.50 516.23 L311.00 516.36 L311.50 516.48 L312.00 516.60 L312.50 516.71 L313.00 516.83 L313.50 516.94 L314.00 517.05 L314.50 517.16 L315.00 517.27 L315.50 517.38 L316.00 517.48 L316.50 517.58 L317.00 517.68 L317.50 517.77 L318.00 517.87 L318.50 517.96 L319.00 518.05 L319.50 518.14 L320.00 518.23 L320.50 518.31 L321.00 518.39 L321.50 518.47 L322.00 518.55 L322.50 518.63 L323.00 518.70 L323.50 518.77 L324.00 518.84 L324.50 518.91 L325.00 518.98 L325.50 519.04 L326.00 519.11 L326.50 519.17 L327.00 519.23 L327.50 519.29 L328.00 519.34 L328.50 519.40 L329.00 519.45 L329.50 519.50 L330.00 519.55 L330.50 519.60 L331.00 519.65 L331.50 519.70 L332.00 519.74 L332.50 519.79 L333.00 519.83 L333.50 519.88 L334.00 519.92 L334.50 519.96 L335.00 520.00 L335.50 520.05 L336.00 520.09 L336.50 520.12 L337.00 520.16 L337.50 520.20 L338.00 520.24 L338.50 520.28 L339.00 520.31 L339.50 520.35 L340.00 520.39 L340.50 520.42 L341.00 520.46 L341.50 520.49 L342.00 520.53 L342.50 520.56 L343.00 520.60 L343.50 520.63 L344.00 520.66 L344.50 520.70 L345.00 520.73 L345.50 520.76 L346.00 520.80 L346.50 520.83 L347.00 520.86 L347.50 520.89 L348.00 520.93 L348.50 520.96 L349.00 520.99 L349.50 521.02 L350.00 521.05 L350.50 521.09 L351.00 521.12 L351.50 521.15 L352.00 521.18 L352.50 521.21 L353.00 521.24 L353.50 521.28 L354.00 521.31 L354.50 521.34 L355.00 521.37 L355.50 521.40 L356.00 521.44 L356.50 521.47 L357.00 521.50 L357.50 521.53 L358.00 521.57 L358.50 521.60 L359.00 521.63 L359.50 521.66 L360.00 521.70 L360.50 521.73 L361.00 521.76 L361.50 521.80 L362.00 521.83 L362.50 521.86 L363.00 521.89 L363.50 521.93 L364.00 521.96 L364.50 521.99 L365.00 522.03 L365.50 522.06 L366.00 522.09 L366.50 522.12 L367.00 522.16 L367.50 522.19 L368.00 522.22 L368.50 522.25 L369.00 522.29 L369.50 522.32 L370.00 522.35 L370.50 522.39 L371.00 522.42 L371.50 522.45 L372.00 522.48 L372.50 522.52 L373.00 522.55 L373.50 522.58 L374.00 522.61 L374.50 522.64 L375.00 522.68 L375.50 522.71 L376.00 522.74 L376.50 522.77 L377.00 522.81 L377.50 522.84 L378.00 522.87 L378.50 522.90 L379.00 522.93 L379.50 522.96 L380.00 522.99 L380.50 523.03 L381.00 523.06 L381.50 523.09 L382.00 523.12 L382.50 523.15 L383.00 523.18 L383.50 523.21 L384.00 523.24 L384.50 523.27 L385.00 523.30 L385.50 523.33 L386.00 523.36 L386.50 523.40 L387.00 523.43 L387.50 523.46 L388.00 523.48 L388.50 523.51 L389.00 523.54 L389.50 523.57 L390.00 523.60 L390.50 523.63 L391.00 523.66 L391.50 523.69 L392.00 523.72 L392.50 523.75 L393.00 523.78 L393.50 523.81 L394.00 523.83 L394.50 523.86 L395.00 523.89 L395.50 523.92 L396.00 523.95 L396.50 523.98 L397.00 524.00 L397.50 524.03 L398.00 524.06 L398.50 524.09 L399.00 524.11 L399.50 524.14 L400.00 524.17 L400.50 524.19 L401.00 524.22 L401.50 524.25 L402.00 524.27 L402.50 524.30 L403.00 524.33 L403.50 524.35 L404.00 524.38 L404.50 524.40 L405.00 524.43 L405.50 524.46 L406.00 524.48 L406.50 524.51 L407.00 524.53 L407.50 524.56 L408.00 524.58 L408.50 524.61 L409.00 524.63 L409.50 524.66 L410.00 524.68 L410.50 524.71 L411.00 524.73 L411.50 524.75 L412.00 524.78 L412.50 524.80 L413.00 524.83 L413.50 524.85 L414.00 524.87 L414.50 524.90 L415.00 524.92 L415.50 524.94 L416.00 524.97 L416.50 524.99 L417.00 525.01 L417.50 525.04 L418.00 525.06 L418.50 525.08 L419.00 525.10 L419.50 525.13 L420.00 525.15 L420.50 525.17 L421.00 525.19 L421.50 525.21 L422.00 525.24 L422.50 525.26 L423.00 525.28 L423.50 525.30 L424.00 525.32 L424.50 525.34 L425.00 525.36 L425.50 525.39 L426.00 525.41 L426.50 525.43 L427.00 525.45 L427.50 525.47 L428.00 525.49 L428.50 525.51 L429.00 525.53 L429.50 525.55 L430.00 525.57 L430.50 525.59 L431.00 525.61 L431.50 525.63 L432.00 525.65 L432.50 525.67 L433.00 525.69 L433.50 525.71 L434.00 525.73 L434.50 525.75 L435.00 525.77 L435.50 525.79 L436.00 525.81 L436.50 525.83 L437.00 525.85 L437.50 525.87 L438.00 525.89 L438.50 525.91 L439.00 525.93 L439.50 525.95 L440.00 525.96 L440.50 525.98 L441.00 526.00 L441.50 526.02 L442.00 526.04 L442.50 526.06 L443.00 526.08 L443.50 526.10 L444.00 526.12 L444.50 526.13 L445.00 526.15 L445.50 526.17 L446.00 526.19 L446.50 526.21 L447.00 526.23 L447.50 526.25 L448.00 526.26 L448.50 526.28 L449.00 526.30 L449.50 526.32 L450.00 526.34 L450.50 526.35 L451.00 526.37 L451.50 526.39 L452.00 526.41 L452.50 526.43 L453.00 526.44 L453.50 526.46 L454.00 526.48 L454.50 526.50 L455.00 526.51 L455.50 526.53 L456.00 526.55 L456.50 526.57 L457.00 526.58 L457.50 526.60 L458.00 526.62 L458.50 526.64 L459.00 526.65 L459.50 526.67 L460.00 526.69 L460.50 526.70 L461.00 526.72 L461.50 526.74 L462.00 526.75 L462.50 526.77 L463.00 526.79 L463.50 526.80 L464.00 526.82 L464.50 526.84 L465.00 526.85 L465.50 526.87 L466.00 526.89 L466.50 526.90 L467.00 526.92 L467.50 526.93 L468.00 526.95 L468.50 526.97 L469.00 526.98 L469.50 527.00 L470.00 527.01 L470.50 527.03 L471.00 527.04 L471.50 527.06 L472.00 527.08 L472.50 527.09 L473.00 527.11 L473.50 527.12 L474.00 527.14 L474.50 527.15 L475.00 527.17 L475.50 527.18 L476.00 527.20 L476.50 527.21 L477.00 527.23 L477.50 527.24 L478.00 527.26 L478.50 527.27 L479.00 527.28 L479.50 527.30 L480.00 527.31 L480.50 527.33 L481.00 527.34 L481.50 527.36 L482.00 527.37 L482.50 527.38 L483.00 527.40 L483.50 527.41 L484.00 527.43 L484.50 527.44 L485.00 527.45 L485.50 527.47 L486.00 527.48 L486.50 527.49 L487.00 527.51 L487.50 527.52 L488.00 527.53 L488.50 527.55 L489.00 527.56 L489.50 527.57 L490.00 527.59 L490.50 527.60 L491.00 527.61 L491.50 527.63 L492.00 527.64 L492.50 527.65 L493.00 527.66 L493.50 527.68 L494.00 527.69 L494.50 527.70 L495.00 527.71 L495.50 527.73 L496.00 527.74 L496.50 527.75 L497.00 527.76 L497.50 527.77 L498.00 527.79 L498.50 527.80 L499.00 527.81 L499.50 527.82 L500.00 527.83 L500.50 527.84 L501.00 527.86 L501.50 527.87 L502.00 527.88 L502.50 527.89 L503.00 527.90 L503.50 527.91 L504.00 527.92 L504.50 527.94 L505.00 527.95 L505.50 527.96 L506.00 527.97 L506.50 527.98 L507.00 527.99 L507.50 528.00 L508.00 528.01 L508.50 528.02 L509.00 528.03 L509.50 528.04 L510.00 528.05 L510.50 528.06 L511.00 528.07 L511.50 528.08 L512.00 528.09 L512.50 528.10 L513.00 528.11 L513.50 528.12 L514.00 528.13 L514.50 528.14 L515.00 528.15 L515.50 528.16 L516.00 528.17 L516.50 528.18 L517.00 528.19 L517.50 528.20 L518.00 528.21 L518.50 528.22 L519.00 528.23 L519.50 528.24 L520.00 528.25 L520.50 528.26 L521.00 528.27 L521.50 528.28 L522.00 528.29 L522.50 528.30 L523.00 528.30 L523.50 528.31 L524.00 528.32 L524.50 528.33 L525.00 528.34 L525.50 528.35 L526.00 528.36 L526.50 528.37 L527.00 528.38 L527.50 528.38 L528.00 528.39 L528.50 528.40 L529.00 528.41 L529.50 528.42 L530.00 528.43 L530.50 528.43 L531.00 528.44 L531.50 528.45 L532.00 528.46 L532.50 528.47 L533.00 528.47 L533.50 528.48 L534.00 528.49 L534.50 528.50 L535.00 528.51 L535.50 528.51 L536.00 528.52 L536.50 528.53 L537.00 528.54 L537.50 528.54 L538.00 528.55 L538.50 528.56 L539.00 528.57 L539.50 528.57 L540.00 528.58 L540.50 528.59 L541.00 528.60 L541.50 528.60 L542.00 528.61 L542.50 528.62 L543.00 528.63 L543.50 528.63 L544.00 528.64 L544.50 528.65 L545.00 528.65 L545.50 528.66 L546.00 528.67 L546.50 528.68 L547.00 528.68 L547.50 528.69 L548.00 528.70 L548.50 528.70 L549.00 528.71 L549.50 528.72 L550.00 528.72 L550.50 528.73 L551.00 528.74 L551.50 528.74 L552.00 528.75 L552.50 528.76 L553.00 528.76 L553.50 528.77 L554.00 528.78 L554.50 528.78 L555.00 528.79 L555.50 528.80 L556.00 528.80 L556.50 528.81 L557.00 528.81 L557.50 528.82 L558.00 528.83 L558.50 528.83 L559.00 528.84 L559.50 528.85 L560.00 528.85 L560.50 528.86 L561.00 528.86 L561.50 528.87 L562.00 528.88 L562.50 528.88 L563.00 528.89 L563.50 528.89 L564.00 528.90 L564.50 528.91 L565.00 528.91 L565.50 528.92 L566.00 528.93 L566.50 528.93 L567.00 528.94 L567.50 528.94 L568.00 528.95 L568.50 528.95 L569.00 528.96 L569.50 528.97 L570.00 528.97 L570.50 528.98 L571.00 528.98 L571.50 528.99 L572.00 529.00 L572.50 529.00 L573.00 529.01 L573.50 529.01 L574.00 529.02 L574.50 529.03 L575.00 529.03 L575.50 529.04 L576.00 529.04 L576.50 529.05 L577.00 529.05 L577.50 529.06 L578.00 529.07 L578.50 529.07 L579.00 529.08 L579.50 529.08 L580.00 529.09 L580.50 529.10 L581.00 529.10 L581.50 529.11 L582.00 529.11 L582.50 529.12 L583.00 529.12 L583.50 529.13 L584.00 529.14 L584.50 529.14 L585.00 529.15 L585.50 529.15 L586.00 529.16 L586.50 529.17 L587.00 529.17 L587.50 529.18 L588.00 529.18 L588.50 529.19 L589.00 529.19 L589.50 529.20 L590.00 529.21 L590.50 529.21 L591.00 529.22 L591.50 529.22 L592.00 529.23 L592.50 529.24 L593.00 529.24 L593.50 529.25 L594.00 529.25 L594.50 529.26 L595.00 529.27 L595.50 529.27 L596.00 529.28 L596.50 529.29 L597.00 529.29 L597.50 529.30 L598.00 529.30 L598.50 529.31 L599.00 529.32 L599.50 529.32 L600.00 529.33 L600.50 529.33 L601.00 529.34 L601.50 529.35 L602.00 529.35 L602.50 529.36 L603.00 529.37 L603.50 529.37 L604.00 529.38 L604.50 529.39 L605.00 529.39 L605.50 529.40 L606.00 529.41 L606.50 529.41 L607.00 529.42 L607.50 529.43 L608.00 529.43 L608.50 529.44 L609.00 529.45 L609.50 529.45 L610.00 529.46 L610.50 529.47 L611.00 529.47 L611.50 529.48 L612.00 529.49 L612.50 529.49 L613.00 529.50 L613.50 529.51 L614.00 529.52 L614.50 529.52 L615.00 529.53 L615.50 529.54 L616.00 529.54 L616.50 529.55 L617.00 529.56 L617.50 529.57 L618.00 529.57 L618.50 529.58 L619.00 529.59 L619.50 529.60 L620.00 529.60 L620.50 529.61 L621.00 529.62 L621.50 529.63 L622.00 529.64 L622.50 529.64 L623.00 529.65 L623.50 529.66 L624.00 529.67 L624.50 529.68 L625.00 529.68 L625.50 529.69 L626.00 529.70 L626.50 529.71 L627.00 529.72 L627.50 529.73 L628.00 529.73 L628.50 529.74 L629.00 529.75 L629.50 529.76 L630.00 529.77 L630.50 529.78 L631.00 529.79 L631.50 529.80 L632.00 529.80 L632.50 529.81 L633.00 529.82 L633.50 529.83 L634.00 529.84 L634.50 529.85 L635.00 529.86 L635.50 529.87 L636.00 529.88 L636.50 529.89 L637.00 529.90 L637.50 529.91 L638.00 529.92 L638.50 529.93" fill="none" stroke="#fff" stroke-width="2.8" stroke-linejoin="round"/>
</g>
<g fill="none" stroke-linejoin="round" stroke-linecap="butt">
<path d="M89.00 529.42 L90.00 525.58 L91.00 521.87 L92.00 518.25 L93.00 514.74 L94.00 511.30 L95.00 507.95 L96.00 504.66 L97.00 501.42 L98.00 498.23 L99.00 495.08 L100.00 491.95 L101.00 488.84 L102.00 485.75 L103.00 482.66 L104.00 479.57 L105.00 476.49 L106.00 473.41 L107.00 470.33 L108.00 467.24 L109.00 464.15 L110.00 461.06 L111.00 457.97 L112.00 454.89 L113.00 451.82 L114.00 448.76 L115.00 445.72 L116.00 442.70 L117.00 439.71 L118.00 436.75 L119.00 433.82 L120.00 430.92 L121.00 428.06 L122.00 425.25 L123.00 422.49 L124.00 419.77 L125.00 417.11 L126.00 414.49 L127.00 411.93 L128.00 409.41 L129.00 406.94 L130.00 404.52 L131.00 402.14 L132.00 399.81 L133.00 397.52 L134.00 395.28 L135.00 393.07 L136.00 390.91 L137.00 388.78 L138.00 386.69 L139.00 384.64 L140.00 382.63 L141.00 380.66 L142.00 378.71 L143.00 376.81 L144.00 374.93 L145.00 373.09 L146.00 371.27 L147.00 369.49 L148.00 367.74 L149.00 366.01 L150.00 364.31 L151.00 362.64 L152.00 360.99 L153.00 359.37 L154.00 357.77 L155.00 356.19 L156.00 354.64 L157.00 353.10 L158.00 351.58 L159.00 350.08 L160.00 348.60 L161.00 347.14 L162.00 345.69 L163.00 344.25 L164.00 342.83 L165.00 341.42 L166.00 340.02 L167.00 338.64 L168.00 337.26 L169.00 335.89 L170.00 334.53 L171.00 333.18 L172.00 331.83 L173.00 330.49 L174.00 329.15 L175.00 327.81 L176.00 326.48 L177.00 325.14 L178.00 323.81 L179.00 322.47 L180.00 321.14 L181.00 319.80 L182.00 318.46 L183.00 317.11 L184.00 315.75 L185.00 314.39 L186.00 313.03 L187.00 311.65 L188.00 310.27 L189.00 308.88 L190.00 307.48 L191.00 306.08 L192.00 304.67 L193.00 303.27 L194.00 301.86 L195.00 300.44 L196.00 299.03 L197.00 297.62 L198.00 296.20 L199.00 294.79 L200.00 293.38 L201.00 291.98 L202.00 290.58 L203.00 289.18 L204.00 287.79 L205.00 286.40 L206.00 285.03 L207.00 283.66 L208.00 282.29 L209.00 280.94 L210.00 279.60 L211.00 278.27 L212.00 276.95 L213.00 275.65 L214.00 274.36 L215.00 273.08 L216.00 271.82 L217.00 270.57 L218.00 269.34 L219.00 268.13 L220.00 266.94 L221.00 265.77 L222.00 264.61 L223.00 263.48 L224.00 262.37 L225.00 261.28 L226.00 260.21 L227.00 259.17 L228.00 258.16 L229.00 257.17 L230.00 256.20 L231.00 255.26 L232.00 254.34 L233.00 253.45 L234.00 252.58 L235.00 251.73 L236.00 250.90 L237.00 250.10 L238.00 249.31 L239.00 248.54 L240.00 247.80 L241.00 247.07 L242.00 246.35 L243.00 245.66 L244.00 244.97 L245.00 244.31 L246.00 243.66 L247.00 243.02 L248.00 242.39 L249.00 241.78 L250.00 241.18 L251.00 240.59 L252.00 240.01 L253.00 239.44 L254.00 238.88 L255.00 238.33 L256.00 237.79 L257.00 237.25 L258.00 236.72 L259.00 236.19 L260.00 235.67 L261.00 235.16 L262.00 234.65 L263.00 234.14 L264.00 233.64 L265.00 233.15 L266.00 232.66 L267.00 232.18 L268.00 231.70 L269.00 231.22 L270.00 230.76 L271.00 230.30 L272.00 229.84 L273.00 229.39 L274.00 228.95 L275.00 228.51 L276.00 228.07 L277.00 227.65 L278.00 227.22 L279.00 226.81 L280.00 226.40 L281.00 225.99 L282.00 225.60 L283.00 225.20 L284.00 224.82 L285.00 224.44 L286.00 224.06 L287.00 223.69 L288.00 223.33 L289.00 222.97 L290.00 222.62 L291.00 222.28 L292.00 221.94 L293.00 221.61 L294.00 221.28 L295.00 220.96 L296.00 220.65 L297.00 220.34 L298.00 220.04 L299.00 219.75 L300.00 219.46 L301.00 219.18 L302.00 218.90 L303.00 218.63 L304.00 218.37 L305.00 218.11 L306.00 217.86 L307.00 217.62 L308.00 217.39 L309.00 217.16 L310.00 216.93 L311.00 216.72 L312.00 216.51 L313.00 216.31 L314.00 216.11 L315.00 215.92 L316.00 215.74 L317.00 215.57 L318.00 215.40 L319.00 215.24 L320.00 215.08 L321.00 214.93 L322.00 214.79 L323.00 214.66 L324.00 214.54 L325.00 214.42 L326.00 214.30 L327.00 214.20 L328.00 214.10 L329.00 214.01 L330.00 213.93 L331.00 213.85 L332.00 213.79 L333.00 213.72 L334.00 213.67 L335.00 213.62 L336.00 213.58 L337.00 213.55 L338.00 213.52 L339.00 213.50 L340.00 213.48 L341.00 213.47 L342.00 213.46 L343.00 213.46 L344.00 213.47 L345.00 213.47 L346.00 213.49 L347.00 213.50 L348.00 213.53 L349.00 213.55 L350.00 213.58 L351.00 213.61 L352.00 213.65 L353.00 213.68 L354.00 213.73 L355.00 213.77 L356.00 213.81 L357.00 213.86 L358.00 213.91 L359.00 213.96 L360.00 214.01 L361.00 214.07 L362.00 214.12 L363.00 214.18 L364.00 214.23 L365.00 214.29 L366.00 214.35 L367.00 214.40 L368.00 214.46 L369.00 214.51 L370.00 214.57 L371.00 214.62 L372.00 214.67 L373.00 214.72 L374.00 214.78 L375.00 214.82 L376.00 214.87 L377.00 214.92 L378.00 214.97 L379.00 215.01 L380.00 215.06 L381.00 215.10 L382.00 215.14 L383.00 215.19 L384.00 215.23 L385.00 215.27 L386.00 215.31 L387.00 215.35 L388.00 215.39 L389.00 215.43 L390.00 215.47 L391.00 215.51 L392.00 215.55 L393.00 215.59 L394.00 215.63 L395.00 215.67 L396.00 215.71 L397.00 215.75 L398.00 215.79 L399.00 215.83 L400.00 215.87 L401.00 215.91 L402.00 215.95 L403.00 216.00 L404.00 216.04 L405.00 216.08 L406.00 216.13 L407.00 216.17 L408.00 216.22 L409.00 216.27 L410.00 216.32 L411.00 216.36 L412.00 216.41 L413.00 216.47 L414.00 216.52 L415.00 216.57 L416.00 216.63 L417.00 216.68 L418.00 216.74 L419.00 216.80 L420.00 216.86 L421.00 216.93 L422.00 216.99 L423.00 217.06 L424.00 217.12 L425.00 217.19 L426.00 217.26 L427.00 217.34 L428.00 217.41 L429.00 217.49 L430.00 217.57 L431.00 217.65 L432.00 217.73 L433.00 217.81 L434.00 217.90 L435.00 217.99 L436.00 218.08 L437.00 218.17 L438.00 218.26 L439.00 218.36 L440.00 218.45 L441.00 218.55 L442.00 218.65 L443.00 218.76 L444.00 218.86 L445.00 218.97 L446.00 219.08 L447.00 219.19 L448.00 219.31 L449.00 219.42 L450.00 219.54 L451.00 219.66 L452.00 219.79 L453.00 219.91 L454.00 220.04 L455.00 220.17 L456.00 220.30 L457.00 220.44 L458.00 220.57 L459.00 220.71 L460.00 220.85 L461.00 221.00 L462.00 221.14 L463.00 221.29 L464.00 221.44 L465.00 221.60 L466.00 221.76 L467.00 221.91 L468.00 222.08 L469.00 222.24 L470.00 222.41 L471.00 222.58 L472.00 222.75 L473.00 222.92 L474.00 223.10 L475.00 223.28 L476.00 223.46 L477.00 223.65 L478.00 223.84 L479.00 224.03 L480.00 224.22 L481.00 224.42 L482.00 224.62 L483.00 224.82 L484.00 225.02 L485.00 225.22 L486.00 225.42 L487.00 225.62 L488.00 225.82 L489.00 226.02 L490.00 226.22 L491.00 226.42 L492.00 226.61 L493.00 226.80 L494.00 226.99 L495.00 227.17 L496.00 227.35 L497.00 227.52 L498.00 227.69 L499.00 227.85 L500.00 228.01 L501.00 228.16 L502.00 228.31 L503.00 228.44 L504.00 228.57 L505.00 228.69 L506.00 228.80 L507.00 228.91 L508.00 229.00 L509.00 229.08 L510.00 229.16 L511.00 229.23 L512.00 229.29 L513.00 229.34 L514.00 229.38 L515.00 229.42 L516.00 229.45 L517.00 229.48 L518.00 229.50 L519.00 229.51 L520.00 229.52 L521.00 229.53 L522.00 229.53 L523.00 229.53 L524.00 229.52 L525.00 229.51 L526.00 229.50 L527.00 229.49 L528.00 229.48 L529.00 229.46 L530.00 229.45 L531.00 229.43 L532.00 229.41 L533.00 229.40 L534.00 229.38 L535.00 229.37 L536.00 229.36 L537.00 229.34 L538.00 229.34 L539.00 229.33 L540.00 229.33 L541.00 229.33 L542.00 229.33 L543.00 229.34 L544.00 229.35 L545.00 229.37 L546.00 229.40 L547.00 229.43 L548.00 229.46 L549.00 229.51 L550.00 229.56 L551.00 229.61 L552.00 229.68 L553.00 229.75 L554.00 229.83 L555.00 229.92 L556.00 230.02 L557.00 230.13 L558.00 230.25 L559.00 230.37 L560.00 230.50 L561.00 230.64 L562.00 230.78 L563.00 230.92 L564.00 231.07 L565.00 231.23 L566.00 231.38 L567.00 231.54 L568.00 231.70 L569.00 231.86 L570.00 232.01 L571.00 232.17 L572.00 232.33 L573.00 232.48 L574.00 232.63 L575.00 232.78 L576.00 232.92 L577.00 233.05 L578.00 233.18 L579.00 233.31 L580.00 233.43 L581.00 233.53 L582.00 233.64 L583.00 233.73 L584.00 233.81 L585.00 233.88 L586.00 233.94 L587.00 234.00 L588.00 234.04 L589.00 234.08 L590.00 234.11 L591.00 234.13 L592.00 234.15 L593.00 234.16 L594.00 234.17 L595.00 234.17 L596.00 234.16 L597.00 234.15 L598.00 234.14 L599.00 234.12 L600.00 234.10 L601.00 234.08 L602.00 234.05 L603.00 234.03 L604.00 234.00 L605.00 233.97 L606.00 233.94 L607.00 233.91 L608.00 233.87 L609.00 233.84 L610.00 233.81 L611.00 233.79 L612.00 233.76 L613.00 233.74 L614.00 233.71 L615.00 233.69 L616.00 233.68 L617.00 233.67 L618.00 233.66 L619.00 233.66 L620.00 233.66 L621.00 233.67 L622.00 233.68 L623.00 233.70 L624.00 233.73 L625.00 233.77 L626.00 233.81 L627.00 233.86 L628.00 233.92 L629.00 233.98 L630.00 234.06 L631.00 234.15 L632.00 234.24 L633.00 234.35 L634.00 234.47 L635.00 234.60 L636.00 234.74 L637.00 234.89 L638.00 235.06 L638.80 235.20" stroke="#000" stroke-width="4.5"/>
<path d="M89.50 510.44 L90.50 508.78 L91.50 507.14 L92.50 505.53 L93.50 503.94 L94.50 502.37 L95.50 500.83 L96.50 499.32 L97.50 497.83 L98.50 496.36 L99.50 494.91 L100.50 493.49 L101.50 492.09 L102.50 490.72 L103.50 489.36 L104.50 488.03 L105.50 486.72 L106.50 485.44 L107.50 484.17 L108.50 482.93 L109.50 481.70 L110.50 480.50 L111.50 479.32 L112.50 478.16 L113.50 477.01 L114.50 475.89 L115.50 474.79 L116.50 473.70 L117.50 472.64 L118.50 471.59 L119.50 470.57 L120.50 469.56 L121.50 468.57 L122.50 467.59 L123.50 466.64 L124.50 465.70 L125.50 464.78 L126.50 463.87 L127.50 462.98 L128.50 462.11 L129.50 461.25 L130.50 460.41 L131.50 459.58 L132.50 458.77 L133.50 457.97 L134.50 457.19 L135.50 456.42 L136.50 455.66 L137.50 454.92 L138.50 454.19 L139.50 453.48 L140.50 452.77 L141.50 452.08 L142.50 451.41 L143.50 450.74 L144.50 450.08 L145.50 449.44 L146.50 448.81 L147.50 448.18 L148.50 447.57 L149.50 446.97 L150.50 446.38 L151.50 445.80 L152.50 445.22 L153.50 444.66 L154.50 444.10 L155.50 443.56 L156.50 443.02 L157.50 442.49 L158.50 441.96 L159.50 441.45 L160.50 440.94 L161.50 440.44 L162.50 439.94 L163.50 439.46 L164.50 438.98 L165.50 438.50 L166.50 438.04 L167.50 437.58 L168.50 437.12 L169.50 436.68 L170.50 436.24 L171.50 435.81 L172.50 435.38 L173.50 434.96 L174.50 434.55 L175.50 434.14 L176.50 433.74 L177.50 433.35 L178.50 432.96 L179.50 432.58 L180.50 432.20 L181.50 431.83 L182.50 431.47 L183.50 431.11 L184.50 430.76 L185.50 430.41 L186.50 430.07 L187.50 429.74 L188.50 429.41 L189.50 429.09 L190.50 428.77 L191.50 428.46 L192.50 428.15 L193.50 427.85 L194.50 427.56 L195.50 427.27 L196.50 426.98 L197.50 426.70 L198.50 426.43 L199.50 426.16 L200.50 425.89 L201.50 425.63 L202.50 425.38 L203.50 425.13 L204.50 424.88 L205.50 424.64 L206.50 424.41 L207.50 424.17 L208.50 423.95 L209.50 423.73 L210.50 423.51 L211.50 423.30 L212.50 423.09 L213.50 422.88 L214.50 422.68 L215.50 422.49 L216.50 422.29 L217.50 422.11 L218.50 421.92 L219.50 421.74 L220.50 421.57 L221.50 421.39 L222.50 421.23 L223.50 421.06 L224.50 420.90 L225.50 420.74 L226.50 420.59 L227.50 420.44 L228.50 420.29 L229.50 420.15 L230.50 420.01 L231.50 419.87 L232.50 419.74 L233.50 419.61 L234.50 419.48 L235.50 419.36 L236.50 419.24 L237.50 419.12 L238.50 419.01 L239.50 418.89 L240.50 418.78 L241.50 418.68 L242.50 418.57 L243.50 418.47 L244.50 418.37 L245.50 418.28 L246.50 418.18 L247.50 418.09 L248.50 418.00 L249.50 417.92 L250.50 417.83 L251.50 417.75 L252.50 417.67 L253.50 417.60 L254.50 417.52 L255.50 417.45 L256.50 417.38 L257.50 417.31 L258.50 417.25 L259.50 417.19 L260.50 417.13 L261.50 417.07 L262.50 417.01 L263.50 416.96 L264.50 416.90 L265.50 416.85 L266.50 416.81 L267.50 416.76 L268.50 416.72 L269.50 416.68 L270.50 416.64 L271.50 416.60 L272.50 416.56 L273.50 416.53 L274.50 416.50 L275.50 416.47 L276.50 416.44 L277.50 416.41 L278.50 416.39 L279.50 416.37 L280.50 416.35 L281.50 416.33 L282.50 416.31 L283.50 416.30 L284.50 416.28 L285.50 416.27 L286.50 416.26 L287.50 416.25 L288.50 416.25 L289.50 416.24 L290.50 416.24 L291.50 416.24 L292.50 416.24 L293.50 416.24 L294.50 416.24 L295.50 416.25 L296.50 416.25 L297.50 416.26 L298.50 416.27 L299.50 416.28 L300.50 416.29 L301.50 416.30 L302.50 416.32 L303.50 416.33 L304.50 416.35 L305.50 416.37 L306.50 416.39 L307.50 416.41 L308.50 416.43 L309.50 416.46 L310.50 416.48 L311.50 416.51 L312.50 416.54 L313.50 416.57 L314.50 416.60 L315.50 416.63 L316.50 416.66 L317.50 416.69 L318.50 416.73 L319.50 416.76 L320.50 416.80 L321.50 416.83 L322.50 416.87 L323.50 416.91 L324.50 416.95 L325.50 416.99 L326.50 417.04 L327.50 417.08 L328.50 417.12 L329.50 417.17 L330.50 417.21 L331.50 417.26 L332.50 417.31 L333.50 417.35 L334.50 417.40 L335.50 417.45 L336.50 417.50 L337.50 417.55 L338.50 417.60 L339.50 417.66 L340.50 417.71 L341.50 417.76 L342.50 417.82 L343.50 417.87 L344.50 417.93 L345.50 417.98 L346.50 418.04 L347.50 418.10 L348.50 418.15 L349.50 418.21 L350.50 418.27 L351.50 418.33 L352.50 418.39 L353.50 418.45 L354.50 418.51 L355.50 418.57 L356.50 418.63 L357.50 418.69 L358.50 418.75 L359.50 418.81 L360.50 418.87 L361.50 418.93 L362.50 418.99 L363.50 419.06 L364.50 419.12 L365.50 419.18 L366.50 419.24 L367.50 419.30 L368.50 419.37 L369.50 419.43 L370.50 419.49 L371.50 419.56 L372.50 419.62 L373.50 419.68 L374.50 419.74 L375.50 419.81 L376.50 419.87 L377.50 419.93 L378.50 420.00 L379.50 420.06 L380.50 420.12 L381.50 420.19 L382.50 420.25 L383.50 420.31 L384.50 420.37 L385.50 420.44 L386.50 420.50 L387.50 420.56 L388.50 420.63 L389.50 420.69 L390.50 420.75 L391.50 420.82 L392.50 420.88 L393.50 420.94 L394.50 421.01 L395.50 421.07 L396.50 421.13 L397.50 421.20 L398.50 421.26 L399.50 421.32 L400.50 421.39 L401.50 421.45 L402.50 421.51 L403.50 421.58 L404.50 421.64 L405.50 421.70 L406.50 421.76 L407.50 421.83 L408.50 421.89 L409.50 421.95 L410.50 422.02 L411.50 422.08 L412.50 422.14 L413.50 422.21 L414.50 422.27 L415.50 422.33 L416.50 422.40 L417.50 422.46 L418.50 422.52 L419.50 422.58 L420.50 422.65 L421.50 422.71 L422.50 422.77 L423.50 422.84 L424.50 422.90 L425.50 422.96 L426.50 423.02 L427.50 423.09 L428.50 423.15 L429.50 423.21 L430.50 423.27 L431.50 423.34 L432.50 423.40 L433.50 423.46 L434.50 423.52 L435.50 423.59 L436.50 423.65 L437.50 423.71 L438.50 423.77 L439.50 423.84 L440.50 423.90 L441.50 423.96 L442.50 424.02 L443.50 424.08 L444.50 424.15 L445.50 424.21 L446.50 424.27 L447.50 424.33 L448.50 424.39 L449.50 424.45 L450.50 424.52 L451.50 424.58 L452.50 424.64 L453.50 424.70 L454.50 424.76 L455.50 424.82 L456.50 424.88 L457.50 424.94 L458.50 425.00 L459.50 425.07 L460.50 425.13 L461.50 425.19 L462.50 425.25 L463.50 425.31 L464.50 425.37 L465.50 425.43 L466.50 425.49 L467.50 425.55 L468.50 425.61 L469.50 425.67 L470.50 425.73 L471.50 425.79 L472.50 425.85 L473.50 425.91 L474.50 425.97 L475.50 426.03 L476.50 426.09 L477.50 426.15 L478.50 426.20 L479.50 426.26 L480.50 426.32 L481.50 426.38 L482.50 426.44 L483.50 426.50 L484.50 426.56 L485.50 426.62 L486.50 426.67 L487.50 426.73 L488.50 426.79 L489.50 426.85 L490.50 426.91 L491.50 426.96 L492.50 427.02 L493.50 427.08 L494.50 427.14 L495.50 427.19 L496.50 427.25 L497.50 427.31 L498.50 427.36 L499.50 427.42 L500.50 427.48 L501.50 427.53 L502.50 427.59 L503.50 427.65 L504.50 427.70 L505.50 427.76 L506.50 427.81 L507.50 427.87 L508.50 427.93 L509.50 427.98 L510.50 428.04 L511.50 428.09 L512.50 428.15 L513.50 428.20 L514.50 428.26 L515.50 428.31 L516.50 428.36 L517.50 428.42 L518.50 428.47 L519.50 428.53 L520.50 428.58 L521.50 428.63 L522.50 428.69 L523.50 428.74 L524.50 428.79 L525.50 428.85 L526.50 428.90 L527.50 428.95 L528.50 429.01 L529.50 429.06 L530.50 429.11 L531.50 429.16 L532.50 429.21 L533.50 429.27 L534.50 429.32 L535.50 429.37 L536.50 429.42 L537.50 429.47 L538.50 429.52 L539.50 429.57 L540.50 429.62 L541.50 429.67 L542.50 429.72 L543.50 429.77 L544.50 429.82 L545.50 429.87 L546.50 429.92 L547.50 429.97 L548.50 430.02 L549.50 430.07 L550.50 430.12 L551.50 430.16 L552.50 430.21 L553.50 430.26 L554.50 430.31 L555.50 430.36 L556.50 430.40 L557.50 430.45 L558.50 430.50 L559.50 430.54 L560.50 430.59 L561.50 430.64 L562.50 430.68 L563.50 430.73 L564.50 430.78 L565.50 430.82 L566.50 430.87 L567.50 430.91 L568.50 430.96 L569.50 431.00 L570.50 431.05 L571.50 431.09 L572.50 431.13 L573.50 431.18 L574.50 431.22 L575.50 431.27 L576.50 431.31 L577.50 431.35 L578.50 431.39 L579.50 431.44 L580.50 431.48 L581.50 431.52 L582.50 431.56 L583.50 431.60 L584.50 431.65 L585.50 431.69 L586.50 431.73 L587.50 431.77 L588.50 431.81 L589.50 431.85 L590.50 431.89 L591.50 431.93 L592.50 431.97 L593.50 432.01 L594.50 432.05 L595.50 432.08 L596.50 432.12 L597.50 432.16 L598.50 432.20 L599.50 432.24 L600.50 432.27 L601.50 432.31 L602.50 432.35 L603.50 432.38 L604.50 432.42 L605.50 432.46 L606.50 432.49 L607.50 432.53 L608.50 432.56 L609.50 432.60 L610.50 432.63 L611.50 432.67 L612.50 432.70 L613.50 432.74 L614.50 432.77 L615.50 432.80 L616.50 432.84 L617.50 432.87 L618.50 432.90 L619.50 432.94 L620.50 432.97 L621.50 433.00 L622.50 433.03 L623.50 433.06 L624.50 433.09 L625.50 433.12 L626.50 433.15 L627.50 433.18 L628.50 433.21 L629.50 433.24 L630.50 433.27 L631.50 433.30 L632.50 433.33 L633.50 433.36 L634.50 433.39 L635.50 433.41 L636.50 433.44 L637.50 433.47 L638.50 433.50 L638.80 433.50" stroke="#000" stroke-width="4.0" stroke-dasharray="3.1 2.5"/>
<path d="M89.00 529.80 L90.00 526.94 L91.00 524.06 L92.00 521.17 L93.00 518.27 L94.00 515.35 L95.00 512.42 L96.00 509.47 L97.00 506.50 L98.00 503.52 L99.00 500.52 L100.00 497.50 L101.00 494.45 L102.00 491.39 L103.00 488.30 L104.00 485.19 L105.00 482.05 L106.00 478.89 L107.00 475.72 L108.00 472.54 L109.00 469.36 L110.00 466.18 L111.00 463.03 L112.00 459.89 L113.00 456.79 L114.00 453.72 L115.00 450.70 L116.00 447.73 L117.00 444.82 L118.00 441.97 L119.00 439.18 L120.00 436.45 L121.00 433.77 L122.00 431.16 L123.00 428.61 L124.00 426.11 L125.00 423.68 L126.00 421.32 L127.00 419.01 L128.00 416.75 L129.00 414.54 L130.00 412.36 L131.00 410.20 L132.00 408.07 L133.00 405.94 L134.00 403.83 L135.00 401.73 L136.00 399.66 L137.00 397.62 L138.00 395.62 L139.00 393.65 L140.00 391.73 L141.00 389.86 L142.00 388.04 L143.00 386.28 L144.00 384.59 L145.00 382.97 L146.00 381.43 L147.00 379.96 L148.00 378.56 L149.00 377.24 L150.00 375.97 L151.00 374.76 L152.00 373.61 L153.00 372.51 L154.00 371.45 L155.00 370.43 L156.00 369.46 L157.00 368.53 L158.00 367.64 L159.00 366.80 L160.00 365.99 L161.00 365.23 L162.00 364.50 L163.00 363.81 L164.00 363.15 L165.00 362.53 L166.00 361.94 L167.00 361.39 L168.00 360.87 L169.00 360.38 L170.00 359.92 L171.00 359.49 L172.00 359.09 L173.00 358.71 L174.00 358.36 L175.00 358.04 L176.00 357.74 L177.00 357.47 L178.00 357.22 L179.00 356.98 L180.00 356.77 L181.00 356.58 L182.00 356.41 L183.00 356.25 L184.00 356.12 L185.00 355.99 L186.00 355.88 L187.00 355.79 L188.00 355.71 L189.00 355.64 L190.00 355.58 L191.00 355.53 L192.00 355.49 L193.00 355.46 L194.00 355.44 L195.00 355.42 L196.00 355.42 L197.00 355.42 L198.00 355.43 L199.00 355.45 L200.00 355.48 L201.00 355.52 L202.00 355.57 L203.00 355.62 L204.00 355.69 L205.00 355.76 L206.00 355.84 L207.00 355.93 L208.00 356.02 L209.00 356.13 L210.00 356.24 L211.00 356.36 L212.00 356.49 L213.00 356.63 L214.00 356.78 L215.00 356.93 L216.00 357.09 L217.00 357.26 L218.00 357.44 L219.00 357.63 L220.00 357.83 L221.00 358.03 L222.00 358.24 L223.00 358.46 L224.00 358.68 L225.00 358.92 L226.00 359.16 L227.00 359.41 L228.00 359.67 L229.00 359.94 L230.00 360.21 L231.00 360.49 L232.00 360.78 L233.00 361.07 L234.00 361.37 L235.00 361.68 L236.00 361.99 L237.00 362.31 L238.00 362.64 L239.00 362.97 L240.00 363.30 L241.00 363.64 L242.00 363.98 L243.00 364.33 L244.00 364.68 L245.00 365.03 L246.00 365.39 L247.00 365.75 L248.00 366.11 L249.00 366.47 L250.00 366.84 L251.00 367.21 L252.00 367.58 L253.00 367.95 L254.00 368.32 L255.00 368.69 L256.00 369.07 L257.00 369.44 L258.00 369.82 L259.00 370.20 L260.00 370.58 L261.00 370.95 L262.00 371.33 L263.00 371.72 L264.00 372.10 L265.00 372.48 L266.00 372.86 L267.00 373.25 L268.00 373.63 L269.00 374.02 L270.00 374.40 L271.00 374.79 L272.00 375.17 L273.00 375.56 L274.00 375.95 L275.00 376.33 L276.00 376.72 L277.00 377.11 L278.00 377.49 L279.00 377.88 L280.00 378.27 L281.00 378.66 L282.00 379.04 L283.00 379.43 L284.00 379.82 L285.00 380.20 L286.00 380.59 L287.00 380.98 L288.00 381.36 L289.00 381.75 L290.00 382.13 L291.00 382.52 L292.00 382.90 L293.00 383.28 L294.00 383.67 L295.00 384.05 L296.00 384.43 L297.00 384.81 L298.00 385.19 L299.00 385.57 L300.00 385.94 L301.00 386.32 L302.00 386.70 L303.00 387.07 L304.00 387.45 L305.00 387.82 L306.00 388.19 L307.00 388.57 L308.00 388.94 L309.00 389.31 L310.00 389.68 L311.00 390.05 L312.00 390.42 L313.00 390.79 L314.00 391.15 L315.00 391.52 L316.00 391.88 L317.00 392.25 L318.00 392.61 L319.00 392.97 L320.00 393.34 L321.00 393.70 L322.00 394.06 L323.00 394.42 L324.00 394.78 L325.00 395.14 L326.00 395.49 L327.00 395.85 L328.00 396.21 L329.00 396.56 L330.00 396.92 L331.00 397.27 L332.00 397.62 L333.00 397.97 L334.00 398.32 L335.00 398.67 L336.00 399.02 L337.00 399.37 L338.00 399.72 L339.00 400.07 L340.00 400.41 L341.00 400.76 L342.00 401.10 L343.00 401.45 L344.00 401.79 L345.00 402.13 L346.00 402.47 L347.00 402.81 L348.00 403.15 L349.00 403.49 L350.00 403.83 L351.00 404.16 L352.00 404.50 L353.00 404.84 L354.00 405.17 L355.00 405.50 L356.00 405.84 L357.00 406.17 L358.00 406.50 L359.00 406.83 L360.00 407.16 L361.00 407.49 L362.00 407.82 L363.00 408.14 L364.00 408.47 L365.00 408.79 L366.00 409.12 L367.00 409.44 L368.00 409.76 L369.00 410.09 L370.00 410.41 L371.00 410.73 L372.00 411.04 L373.00 411.36 L374.00 411.68 L375.00 412.00 L376.00 412.31 L377.00 412.63 L378.00 412.94 L379.00 413.25 L380.00 413.57 L381.00 413.88 L382.00 414.19 L383.00 414.50 L384.00 414.81 L385.00 415.11 L386.00 415.42 L387.00 415.73 L388.00 416.03 L389.00 416.34 L390.00 416.64 L391.00 416.94 L392.00 417.24 L393.00 417.54 L394.00 417.84 L395.00 418.14 L396.00 418.44 L397.00 418.74 L398.00 419.03 L399.00 419.33 L400.00 419.62 L401.00 419.92 L402.00 420.21 L403.00 420.50 L404.00 420.79 L405.00 421.08 L406.00 421.37 L407.00 421.66 L408.00 421.95 L409.00 422.23 L410.00 422.52 L411.00 422.80 L412.00 423.08 L413.00 423.37 L414.00 423.65 L415.00 423.93 L416.00 424.21 L417.00 424.49 L418.00 424.77 L419.00 425.04 L420.00 425.32 L421.00 425.59 L422.00 425.87 L423.00 426.14 L424.00 426.41 L425.00 426.69 L426.00 426.96 L427.00 427.23 L428.00 427.49 L429.00 427.76 L430.00 428.03 L431.00 428.29 L432.00 428.56 L433.00 428.82 L434.00 429.09 L435.00 429.35 L436.00 429.61 L437.00 429.87 L438.00 430.13 L439.00 430.39 L440.00 430.65 L441.00 430.90 L442.00 431.16 L443.00 431.42 L444.00 431.67 L445.00 431.92 L446.00 432.18 L447.00 432.43 L448.00 432.68 L449.00 432.93 L450.00 433.18 L451.00 433.42 L452.00 433.67 L453.00 433.92 L454.00 434.16 L455.00 434.41 L456.00 434.65 L457.00 434.89 L458.00 435.14 L459.00 435.38 L460.00 435.62 L461.00 435.86 L462.00 436.09 L463.00 436.33 L464.00 436.57 L465.00 436.80 L466.00 437.04 L467.00 437.27 L468.00 437.50 L469.00 437.74 L470.00 437.97 L471.00 438.20 L472.00 438.43 L473.00 438.66 L474.00 438.88 L475.00 439.11 L476.00 439.34 L477.00 439.56 L478.00 439.79 L479.00 440.01 L480.00 440.23 L481.00 440.46 L482.00 440.68 L483.00 440.90 L484.00 441.12 L485.00 441.33 L486.00 441.55 L487.00 441.77 L488.00 441.98 L489.00 442.20 L490.00 442.41 L491.00 442.63 L492.00 442.84 L493.00 443.05 L494.00 443.26 L495.00 443.47 L496.00 443.68 L497.00 443.89 L498.00 444.10 L499.00 444.30 L500.00 444.51 L501.00 444.71 L502.00 444.92 L503.00 445.12 L504.00 445.32 L505.00 445.52 L506.00 445.73 L507.00 445.93 L508.00 446.12 L509.00 446.32 L510.00 446.52 L511.00 446.72 L512.00 446.91 L513.00 447.11 L514.00 447.30 L515.00 447.49 L516.00 447.69 L517.00 447.88 L518.00 448.07 L519.00 448.26 L520.00 448.45 L521.00 448.64 L522.00 448.83 L523.00 449.01 L524.00 449.20 L525.00 449.38 L526.00 449.57 L527.00 449.75 L528.00 449.93 L529.00 450.12 L530.00 450.30 L531.00 450.48 L532.00 450.66 L533.00 450.84 L534.00 451.01 L535.00 451.19 L536.00 451.37 L537.00 451.54 L538.00 451.72 L539.00 451.89 L540.00 452.06 L541.00 452.24 L542.00 452.41 L543.00 452.58 L544.00 452.75 L545.00 452.92 L546.00 453.09 L547.00 453.25 L548.00 453.42 L549.00 453.59 L550.00 453.75 L551.00 453.92 L552.00 454.08 L553.00 454.24 L554.00 454.41 L555.00 454.57 L556.00 454.73 L557.00 454.89 L558.00 455.05 L559.00 455.21 L560.00 455.36 L561.00 455.52 L562.00 455.68 L563.00 455.83 L564.00 455.99 L565.00 456.14 L566.00 456.29 L567.00 456.44 L568.00 456.60 L569.00 456.75 L570.00 456.90 L571.00 457.05 L572.00 457.19 L573.00 457.34 L574.00 457.49 L575.00 457.63 L576.00 457.78 L577.00 457.92 L578.00 458.07 L579.00 458.21 L580.00 458.35 L581.00 458.50 L582.00 458.64 L583.00 458.78 L584.00 458.92 L585.00 459.05 L586.00 459.19 L587.00 459.33 L588.00 459.47 L589.00 459.60 L590.00 459.74 L591.00 459.87 L592.00 460.00 L593.00 460.14 L594.00 460.27 L595.00 460.40 L596.00 460.53 L597.00 460.66 L598.00 460.79 L599.00 460.92 L600.00 461.05 L601.00 461.17 L602.00 461.30 L603.00 461.42 L604.00 461.55 L605.00 461.67 L606.00 461.80 L607.00 461.92 L608.00 462.04 L609.00 462.16 L610.00 462.28 L611.00 462.40 L612.00 462.52 L613.00 462.64 L614.00 462.76 L615.00 462.87 L616.00 462.99 L617.00 463.10 L618.00 463.22 L619.00 463.33 L620.00 463.45 L621.00 463.56 L622.00 463.67 L623.00 463.78 L624.00 463.89 L625.00 464.00 L626.00 464.11 L627.00 464.22 L628.00 464.33 L629.00 464.43 L630.00 464.54 L631.00 464.65 L632.00 464.75 L633.00 464.85 L634.00 464.96 L635.00 465.06 L636.00 465.16 L637.00 465.26 L638.00 465.37 L638.80 465.45" stroke="#4477aa" stroke-width="3.3"/>
<path d="M89.00 533.15 L90.00 532.99 L91.00 532.84 L92.00 532.68 L93.00 532.52 L94.00 532.36 L95.00 532.20 L96.00 532.04 L97.00 531.87 L98.00 531.71 L99.00 531.54 L100.00 531.37 L101.00 531.20 L102.00 531.03 L103.00 530.86 L104.00 530.69 L105.00 530.52 L106.00 530.34 L107.00 530.16 L108.00 529.99 L109.00 529.81 L110.00 529.63 L111.00 529.45 L112.00 529.27 L113.00 529.08 L114.00 528.90 L115.00 528.71 L116.00 528.53 L117.00 528.34 L118.00 528.16 L119.00 527.97 L120.00 527.78 L121.00 527.59 L122.00 527.40 L123.00 527.21 L124.00 527.02 L125.00 526.83 L126.00 526.64 L127.00 526.44 L128.00 526.25 L129.00 526.06 L130.00 525.86 L131.00 525.67 L132.00 525.47 L133.00 525.28 L134.00 525.08 L135.00 524.88 L136.00 524.69 L137.00 524.49 L138.00 524.29 L139.00 524.10 L140.00 523.90 L141.00 523.70 L142.00 523.50 L143.00 523.31 L144.00 523.11 L145.00 522.91 L146.00 522.71 L147.00 522.51 L148.00 522.32 L149.00 522.12 L150.00 521.92 L151.00 521.72 L152.00 521.53 L153.00 521.33 L154.00 521.13 L155.00 520.94 L156.00 520.74 L157.00 520.54 L158.00 520.35 L159.00 520.15 L160.00 519.96 L161.00 519.76 L162.00 519.57 L163.00 519.37 L164.00 519.18 L165.00 518.99 L166.00 518.80 L167.00 518.60 L168.00 518.41 L169.00 518.22 L170.00 518.03 L171.00 517.84 L172.00 517.66 L173.00 517.47 L174.00 517.28 L175.00 517.10 L176.00 516.91 L177.00 516.73 L178.00 516.54 L179.00 516.36 L180.00 516.18 L181.00 516.00 L182.00 515.82 L183.00 515.64 L184.00 515.46 L185.00 515.29 L186.00 515.11 L187.00 514.94 L188.00 514.76 L189.00 514.59 L190.00 514.42 L191.00 514.25 L192.00 514.08 L193.00 513.91 L194.00 513.74 L195.00 513.58 L196.00 513.41 L197.00 513.25 L198.00 513.08 L199.00 512.92 L200.00 512.76 L201.00 512.60 L202.00 512.44 L203.00 512.28 L204.00 512.13 L205.00 511.97 L206.00 511.82 L207.00 511.66 L208.00 511.51 L209.00 511.36 L210.00 511.21 L211.00 511.06 L212.00 510.91 L213.00 510.77 L214.00 510.62 L215.00 510.48 L216.00 510.33 L217.00 510.19 L218.00 510.05 L219.00 509.91 L220.00 509.77 L221.00 509.63 L222.00 509.50 L223.00 509.36 L224.00 509.23 L225.00 509.09 L226.00 508.96 L227.00 508.83 L228.00 508.70 L229.00 508.58 L230.00 508.45 L231.00 508.32 L232.00 508.20 L233.00 508.08 L234.00 507.96 L235.00 507.83 L236.00 507.72 L237.00 507.60 L238.00 507.48 L239.00 507.37 L240.00 507.25 L241.00 507.14 L242.00 507.03 L243.00 506.92 L244.00 506.81 L245.00 506.70 L246.00 506.59 L247.00 506.49 L248.00 506.39 L249.00 506.28 L250.00 506.18 L251.00 506.08 L252.00 505.99 L253.00 505.89 L254.00 505.79 L255.00 505.70 L256.00 505.61 L257.00 505.52 L258.00 505.43 L259.00 505.34 L260.00 505.25 L261.00 505.16 L262.00 505.08 L263.00 505.00 L264.00 504.91 L265.00 504.83 L266.00 504.76 L267.00 504.68 L268.00 504.60 L269.00 504.53 L270.00 504.46 L271.00 504.38 L272.00 504.31 L273.00 504.25 L274.00 504.18 L275.00 504.11 L276.00 504.05 L277.00 503.99 L278.00 503.92 L279.00 503.86 L280.00 503.81 L281.00 503.75 L282.00 503.69 L283.00 503.64 L284.00 503.59 L285.00 503.54 L286.00 503.49 L287.00 503.44 L288.00 503.40 L289.00 503.35 L290.00 503.31 L291.00 503.27 L292.00 503.23 L293.00 503.19 L294.00 503.15 L295.00 503.12 L296.00 503.08 L297.00 503.05 L298.00 503.02 L299.00 502.99 L300.00 502.97 L301.00 502.94 L302.00 502.92 L303.00 502.90 L304.00 502.88 L305.00 502.86 L306.00 502.84 L307.00 502.82 L308.00 502.81 L309.00 502.80 L310.00 502.78 L311.00 502.77 L312.00 502.77 L313.00 502.76 L314.00 502.75 L315.00 502.75 L316.00 502.75 L317.00 502.75 L318.00 502.75 L319.00 502.75 L320.00 502.75 L321.00 502.75 L322.00 502.76 L323.00 502.77 L324.00 502.77 L325.00 502.78 L326.00 502.80 L327.00 502.81 L328.00 502.82 L329.00 502.83 L330.00 502.85 L331.00 502.87 L332.00 502.89 L333.00 502.90 L334.00 502.92 L335.00 502.95 L336.00 502.97 L337.00 502.99 L338.00 503.02 L339.00 503.04 L340.00 503.07 L341.00 503.10 L342.00 503.13 L343.00 503.16 L344.00 503.19 L345.00 503.22 L346.00 503.26 L347.00 503.29 L348.00 503.33 L349.00 503.36 L350.00 503.40 L351.00 503.44 L352.00 503.48 L353.00 503.52 L354.00 503.56 L355.00 503.60 L356.00 503.64 L357.00 503.68 L358.00 503.73 L359.00 503.77 L360.00 503.82 L361.00 503.87 L362.00 503.91 L363.00 503.96 L364.00 504.01 L365.00 504.06 L366.00 504.11 L367.00 504.16 L368.00 504.21 L369.00 504.27 L370.00 504.32 L371.00 504.37 L372.00 504.43 L373.00 504.48 L374.00 504.54 L375.00 504.60 L376.00 504.65 L377.00 504.71 L378.00 504.77 L379.00 504.83 L380.00 504.89 L381.00 504.95 L382.00 505.01 L383.00 505.07 L384.00 505.13 L385.00 505.19 L386.00 505.25 L387.00 505.32 L388.00 505.38 L389.00 505.44 L390.00 505.51 L391.00 505.57 L392.00 505.64 L393.00 505.70 L394.00 505.77 L395.00 505.83 L396.00 505.90 L397.00 505.96 L398.00 506.03 L399.00 506.10 L400.00 506.16 L401.00 506.23 L402.00 506.30 L403.00 506.37 L404.00 506.44 L405.00 506.50 L406.00 506.57 L407.00 506.64 L408.00 506.71 L409.00 506.78 L410.00 506.85 L411.00 506.92 L412.00 506.99 L413.00 507.05 L414.00 507.12 L415.00 507.19 L416.00 507.26 L417.00 507.33 L418.00 507.40 L419.00 507.47 L420.00 507.54 L421.00 507.61 L422.00 507.68 L423.00 507.75 L424.00 507.82 L425.00 507.89 L426.00 507.96 L427.00 508.03 L428.00 508.09 L429.00 508.16 L430.00 508.23 L431.00 508.30 L432.00 508.37 L433.00 508.44 L434.00 508.50 L435.00 508.57 L436.00 508.64 L437.00 508.71 L438.00 508.77 L439.00 508.84 L440.00 508.91 L441.00 508.97 L442.00 509.04 L443.00 509.10 L444.00 509.17 L445.00 509.23 L446.00 509.30 L447.00 509.36 L448.00 509.43 L449.00 509.49 L450.00 509.55 L451.00 509.62 L452.00 509.68 L453.00 509.74 L454.00 509.80 L455.00 509.86 L456.00 509.92 L457.00 509.98 L458.00 510.04 L459.00 510.10 L460.00 510.16 L461.00 510.22 L462.00 510.28 L463.00 510.34 L464.00 510.40 L465.00 510.46 L466.00 510.51 L467.00 510.57 L468.00 510.63 L469.00 510.68 L470.00 510.74 L471.00 510.80 L472.00 510.85 L473.00 510.91 L474.00 510.96 L475.00 511.02 L476.00 511.07 L477.00 511.12 L478.00 511.18 L479.00 511.23 L480.00 511.28 L481.00 511.34 L482.00 511.39 L483.00 511.44 L484.00 511.49 L485.00 511.55 L486.00 511.60 L487.00 511.65 L488.00 511.70 L489.00 511.75 L490.00 511.80 L491.00 511.85 L492.00 511.90 L493.00 511.95 L494.00 512.00 L495.00 512.05 L496.00 512.09 L497.00 512.14 L498.00 512.19 L499.00 512.24 L500.00 512.28 L501.00 512.33 L502.00 512.38 L503.00 512.42 L504.00 512.47 L505.00 512.52 L506.00 512.56 L507.00 512.61 L508.00 512.65 L509.00 512.70 L510.00 512.74 L511.00 512.79 L512.00 512.83 L513.00 512.88 L514.00 512.92 L515.00 512.96 L516.00 513.01 L517.00 513.05 L518.00 513.09 L519.00 513.13 L520.00 513.18 L521.00 513.22 L522.00 513.26 L523.00 513.30 L524.00 513.34 L525.00 513.38 L526.00 513.43 L527.00 513.47 L528.00 513.51 L529.00 513.55 L530.00 513.59 L531.00 513.63 L532.00 513.67 L533.00 513.71 L534.00 513.74 L535.00 513.78 L536.00 513.82 L537.00 513.86 L538.00 513.90 L539.00 513.94 L540.00 513.97 L541.00 514.01 L542.00 514.05 L543.00 514.09 L544.00 514.12 L545.00 514.16 L546.00 514.20 L547.00 514.23 L548.00 514.27 L549.00 514.31 L550.00 514.34 L551.00 514.38 L552.00 514.41 L553.00 514.45 L554.00 514.48 L555.00 514.52 L556.00 514.55 L557.00 514.59 L558.00 514.62 L559.00 514.66 L560.00 514.69 L561.00 514.73 L562.00 514.76 L563.00 514.79 L564.00 514.83 L565.00 514.86 L566.00 514.89 L567.00 514.93 L568.00 514.96 L569.00 514.99 L570.00 515.03 L571.00 515.06 L572.00 515.09 L573.00 515.12 L574.00 515.15 L575.00 515.19 L576.00 515.22 L577.00 515.25 L578.00 515.28 L579.00 515.31 L580.00 515.34 L581.00 515.37 L582.00 515.40 L583.00 515.44 L584.00 515.47 L585.00 515.50 L586.00 515.53 L587.00 515.56 L588.00 515.59 L589.00 515.62 L590.00 515.65 L591.00 515.68 L592.00 515.71 L593.00 515.74 L594.00 515.77 L595.00 515.80 L596.00 515.82 L597.00 515.85 L598.00 515.88 L599.00 515.91 L600.00 515.94 L601.00 515.97 L602.00 516.00 L603.00 516.03 L604.00 516.05 L605.00 516.08 L606.00 516.11 L607.00 516.14 L608.00 516.17 L609.00 516.20 L610.00 516.22 L611.00 516.25 L612.00 516.28 L613.00 516.31 L614.00 516.33 L615.00 516.36 L616.00 516.39 L617.00 516.42 L618.00 516.44 L619.00 516.47 L620.00 516.50 L621.00 516.53 L622.00 516.55 L623.00 516.58 L624.00 516.61 L625.00 516.63 L626.00 516.66 L627.00 516.69 L628.00 516.71 L629.00 516.74 L630.00 516.77 L631.00 516.79 L632.00 516.82 L633.00 516.85 L634.00 516.87 L635.00 516.90 L636.00 516.93 L637.00 516.95 L638.00 516.98 L638.80 517.00" stroke="#4477aa" stroke-width="3.2" stroke-dasharray="3.0 2.6"/>
<path d="M89.00 535.10 L90.00 535.00 L91.00 534.92 L92.00 534.84 L93.00 534.77 L94.00 534.71 L95.00 534.66 L96.00 534.62 L97.00 534.58 L98.00 534.55 L99.00 534.53 L100.00 534.51 L101.00 534.50 L102.00 534.50 L103.00 534.50 L104.00 534.51 L105.00 534.52 L106.00 534.53 L107.00 534.55 L108.00 534.57 L109.00 534.59 L110.00 534.62 L111.00 534.65 L112.00 534.68 L113.00 534.71 L114.00 534.74 L115.00 534.78 L116.00 534.81 L117.00 534.84 L118.00 534.87 L119.00 534.90 L120.00 534.93 L121.00 534.96 L122.00 534.99 L123.00 535.01 L124.00 535.03 L125.00 535.05 L126.00 535.06 L127.00 535.07 L128.00 535.07 L129.00 535.07 L130.00 535.06 L131.00 535.05 L132.00 535.03 L133.00 535.01 L134.00 534.98 L135.00 534.94 L136.00 534.89 L137.00 534.84 L138.00 534.77 L139.00 534.70 L140.00 534.62 L141.00 534.53 L142.00 534.43 L143.00 534.32 L144.00 534.19 L145.00 534.06 L146.00 533.92 L147.00 533.76 L148.00 533.59 L149.00 533.40 L150.00 533.20 L151.00 532.98 L152.00 532.74 L153.00 532.49 L154.00 532.21 L155.00 531.91 L156.00 531.58 L157.00 531.23 L158.00 530.85 L159.00 530.45 L160.00 530.01 L161.00 529.55 L162.00 529.06 L163.00 528.54 L164.00 528.00 L165.00 527.43 L166.00 526.83 L167.00 526.21 L168.00 525.57 L169.00 524.90 L170.00 524.21 L171.00 523.49 L172.00 522.75 L173.00 521.99 L174.00 521.21 L175.00 520.41 L176.00 519.59 L177.00 518.75 L178.00 517.89 L179.00 517.01 L180.00 516.11 L181.00 515.20 L182.00 514.27 L183.00 513.32 L184.00 512.36 L185.00 511.38 L186.00 510.39 L187.00 509.38 L188.00 508.36 L189.00 507.33 L190.00 506.29 L191.00 505.23 L192.00 504.16 L193.00 503.08 L194.00 502.00 L195.00 500.90 L196.00 499.79 L197.00 498.68 L198.00 497.55 L199.00 496.42 L200.00 495.28 L201.00 494.14 L202.00 492.99 L203.00 491.84 L204.00 490.68 L205.00 489.51 L206.00 488.35 L207.00 487.18 L208.00 486.01 L209.00 484.83 L210.00 483.66 L211.00 482.48 L212.00 481.30 L213.00 480.12 L214.00 478.95 L215.00 477.77 L216.00 476.59 L217.00 475.41 L218.00 474.24 L219.00 473.06 L220.00 471.89 L221.00 470.72 L222.00 469.55 L223.00 468.39 L224.00 467.23 L225.00 466.07 L226.00 464.91 L227.00 463.76 L228.00 462.61 L229.00 461.47 L230.00 460.34 L231.00 459.20 L232.00 458.08 L233.00 456.96 L234.00 455.85 L235.00 454.74 L236.00 453.64 L237.00 452.55 L238.00 451.46 L239.00 450.39 L240.00 449.32 L241.00 448.26 L242.00 447.21 L243.00 446.17 L244.00 445.14 L245.00 444.11 L246.00 443.10 L247.00 442.10 L248.00 441.11 L249.00 440.14 L250.00 439.17 L251.00 438.21 L252.00 437.27 L253.00 436.34 L254.00 435.43 L255.00 434.52 L256.00 433.63 L257.00 432.76 L258.00 431.90 L259.00 431.05 L260.00 430.22 L261.00 429.40 L262.00 428.59 L263.00 427.80 L264.00 427.02 L265.00 426.25 L266.00 425.50 L267.00 424.76 L268.00 424.03 L269.00 423.32 L270.00 422.61 L271.00 421.92 L272.00 421.24 L273.00 420.57 L274.00 419.92 L275.00 419.27 L276.00 418.64 L277.00 418.01 L278.00 417.40 L279.00 416.80 L280.00 416.21 L281.00 415.62 L282.00 415.05 L283.00 414.49 L284.00 413.94 L285.00 413.39 L286.00 412.86 L287.00 412.33 L288.00 411.82 L289.00 411.31 L290.00 410.81 L291.00 410.32 L292.00 409.83 L293.00 409.36 L294.00 408.89 L295.00 408.43 L296.00 407.98 L297.00 407.53 L298.00 407.09 L299.00 406.66 L300.00 406.23 L301.00 405.81 L302.00 405.40 L303.00 404.99 L304.00 404.59 L305.00 404.20 L306.00 403.81 L307.00 403.42 L308.00 403.04 L309.00 402.67 L310.00 402.30 L311.00 401.94 L312.00 401.58 L313.00 401.22 L314.00 400.88 L315.00 400.54 L316.00 400.20 L317.00 399.87 L318.00 399.54 L319.00 399.22 L320.00 398.90 L321.00 398.59 L322.00 398.28 L323.00 397.98 L324.00 397.69 L325.00 397.39 L326.00 397.11 L327.00 396.82 L328.00 396.55 L329.00 396.27 L330.00 396.01 L331.00 395.74 L332.00 395.49 L333.00 395.23 L334.00 394.98 L335.00 394.74 L336.00 394.50 L337.00 394.26 L338.00 394.03 L339.00 393.80 L340.00 393.58 L341.00 393.36 L342.00 393.15 L343.00 392.94 L344.00 392.73 L345.00 392.53 L346.00 392.34 L347.00 392.14 L348.00 391.96 L349.00 391.77 L350.00 391.59 L351.00 391.41 L352.00 391.24 L353.00 391.07 L354.00 390.91 L355.00 390.75 L356.00 390.59 L357.00 390.44 L358.00 390.29 L359.00 390.14 L360.00 390.00 L361.00 389.86 L362.00 389.73 L363.00 389.60 L364.00 389.47 L365.00 389.35 L366.00 389.23 L367.00 389.11 L368.00 389.00 L369.00 388.89 L370.00 388.78 L371.00 388.68 L372.00 388.58 L373.00 388.48 L374.00 388.39 L375.00 388.30 L376.00 388.21 L377.00 388.13 L378.00 388.05 L379.00 387.97 L380.00 387.90 L381.00 387.82 L382.00 387.76 L383.00 387.69 L384.00 387.63 L385.00 387.57 L386.00 387.51 L387.00 387.46 L388.00 387.41 L389.00 387.36 L390.00 387.31 L391.00 387.27 L392.00 387.23 L393.00 387.19 L394.00 387.16 L395.00 387.12 L396.00 387.09 L397.00 387.06 L398.00 387.04 L399.00 387.02 L400.00 387.00 L401.00 386.98 L402.00 386.96 L403.00 386.95 L404.00 386.94 L405.00 386.93 L406.00 386.92 L407.00 386.92 L408.00 386.91 L409.00 386.91 L410.00 386.92 L411.00 386.92 L412.00 386.92 L413.00 386.93 L414.00 386.94 L415.00 386.95 L416.00 386.97 L417.00 386.98 L418.00 387.00 L419.00 387.02 L420.00 387.04 L421.00 387.06 L422.00 387.08 L423.00 387.11 L424.00 387.13 L425.00 387.16 L426.00 387.19 L427.00 387.22 L428.00 387.26 L429.00 387.29 L430.00 387.33 L431.00 387.36 L432.00 387.40 L433.00 387.44 L434.00 387.48 L435.00 387.52 L436.00 387.57 L437.00 387.61 L438.00 387.66 L439.00 387.70 L440.00 387.75 L441.00 387.80 L442.00 387.85 L443.00 387.90 L444.00 387.95 L445.00 388.00 L446.00 388.06 L447.00 388.11 L448.00 388.17 L449.00 388.22 L450.00 388.28 L451.00 388.34 L452.00 388.40 L453.00 388.46 L454.00 388.52 L455.00 388.58 L456.00 388.65 L457.00 388.71 L458.00 388.78 L459.00 388.84 L460.00 388.91 L461.00 388.98 L462.00 389.05 L463.00 389.12 L464.00 389.19 L465.00 389.26 L466.00 389.33 L467.00 389.40 L468.00 389.48 L469.00 389.55 L470.00 389.63 L471.00 389.70 L472.00 389.78 L473.00 389.86 L474.00 389.93 L475.00 390.01 L476.00 390.09 L477.00 390.17 L478.00 390.25 L479.00 390.34 L480.00 390.42 L481.00 390.50 L482.00 390.59 L483.00 390.67 L484.00 390.76 L485.00 390.84 L486.00 390.93 L487.00 391.02 L488.00 391.10 L489.00 391.19 L490.00 391.28 L491.00 391.37 L492.00 391.46 L493.00 391.55 L494.00 391.64 L495.00 391.74 L496.00 391.83 L497.00 391.92 L498.00 392.02 L499.00 392.11 L500.00 392.20 L501.00 392.30 L502.00 392.39 L503.00 392.49 L504.00 392.59 L505.00 392.68 L506.00 392.78 L507.00 392.88 L508.00 392.98 L509.00 393.08 L510.00 393.17 L511.00 393.27 L512.00 393.37 L513.00 393.47 L514.00 393.58 L515.00 393.68 L516.00 393.78 L517.00 393.88 L518.00 393.98 L519.00 394.08 L520.00 394.19 L521.00 394.29 L522.00 394.39 L523.00 394.50 L524.00 394.60 L525.00 394.70 L526.00 394.81 L527.00 394.91 L528.00 395.02 L529.00 395.12 L530.00 395.23 L531.00 395.33 L532.00 395.44 L533.00 395.55 L534.00 395.65 L535.00 395.76 L536.00 395.87 L537.00 395.97 L538.00 396.08 L539.00 396.19 L540.00 396.29 L541.00 396.40 L542.00 396.51 L543.00 396.61 L544.00 396.72 L545.00 396.83 L546.00 396.94 L547.00 397.05 L548.00 397.15 L549.00 397.26 L550.00 397.37 L551.00 397.48 L552.00 397.58 L553.00 397.69 L554.00 397.80 L555.00 397.91 L556.00 398.02 L557.00 398.12 L558.00 398.23 L559.00 398.34 L560.00 398.45 L561.00 398.55 L562.00 398.66 L563.00 398.77 L564.00 398.88 L565.00 398.98 L566.00 399.09 L567.00 399.20 L568.00 399.30 L569.00 399.41 L570.00 399.52 L571.00 399.62 L572.00 399.73 L573.00 399.84 L574.00 399.94 L575.00 400.05 L576.00 400.15 L577.00 400.26 L578.00 400.36 L579.00 400.47 L580.00 400.57 L581.00 400.68 L582.00 400.78 L583.00 400.89 L584.00 400.99 L585.00 401.09 L586.00 401.19 L587.00 401.30 L588.00 401.40 L589.00 401.50 L590.00 401.60 L591.00 401.70 L592.00 401.80 L593.00 401.90 L594.00 402.00 L595.00 402.10 L596.00 402.20 L597.00 402.30 L598.00 402.40 L599.00 402.50 L600.00 402.60 L601.00 402.69 L602.00 402.79 L603.00 402.89 L604.00 402.98 L605.00 403.08 L606.00 403.17 L607.00 403.27 L608.00 403.36 L609.00 403.45 L610.00 403.55 L611.00 403.64 L612.00 403.73 L613.00 403.82 L614.00 403.91 L615.00 404.00 L616.00 404.09 L617.00 404.18 L618.00 404.27 L619.00 404.35 L620.00 404.44 L621.00 404.53 L622.00 404.61 L623.00 404.70 L624.00 404.78 L625.00 404.87 L626.00 404.95 L627.00 405.03 L628.00 405.11 L629.00 405.19 L630.00 405.27 L631.00 405.35 L632.00 405.43 L633.00 405.51 L634.00 405.59 L635.00 405.66 L636.00 405.74 L637.00 405.81 L638.00 405.89 L638.80 405.95" stroke="#ee6677" stroke-width="3.4"/>
<path d="M89.00 535.16 L90.00 535.17 L91.00 535.18 L92.00 535.19 L93.00 535.19 L94.00 535.20 L95.00 535.21 L96.00 535.22 L97.00 535.23 L98.00 535.23 L99.00 535.24 L100.00 535.25 L101.00 535.26 L102.00 535.27 L103.00 535.28 L104.00 535.29 L105.00 535.29 L106.00 535.30 L107.00 535.31 L108.00 535.32 L109.00 535.33 L110.00 535.34 L111.00 535.35 L112.00 535.36 L113.00 535.36 L114.00 535.37 L115.00 535.38 L116.00 535.39 L117.00 535.40 L118.00 535.41 L119.00 535.42 L120.00 535.43 L121.00 535.43 L122.00 535.44 L123.00 535.45 L124.00 535.46 L125.00 535.47 L126.00 535.48 L127.00 535.48 L128.00 535.49 L129.00 535.50 L130.00 535.51 L131.00 535.52 L132.00 535.52 L133.00 535.53 L134.00 535.54 L135.00 535.54 L136.00 535.55 L137.00 535.56 L138.00 535.57 L139.00 535.57 L140.00 535.58 L141.00 535.58 L142.00 535.59 L143.00 535.60 L144.00 535.60 L145.00 535.61 L146.00 535.61 L147.00 535.62 L148.00 535.62 L149.00 535.63 L150.00 535.63 L151.00 535.63 L152.00 535.64 L153.00 535.64 L154.00 535.64 L155.00 535.65 L156.00 535.65 L157.00 535.65 L158.00 535.65 L159.00 535.66 L160.00 535.66 L161.00 535.66 L162.00 535.66 L163.00 535.66 L164.00 535.66 L165.00 535.66 L166.00 535.66 L167.00 535.66 L168.00 535.66 L169.00 535.66 L170.00 535.65 L171.00 535.65 L172.00 535.65 L173.00 535.65 L174.00 535.64 L175.00 535.64 L176.00 535.63 L177.00 535.63 L178.00 535.62 L179.00 535.62 L180.00 535.61 L181.00 535.61 L182.00 535.60 L183.00 535.59 L184.00 535.58 L185.00 535.58 L186.00 535.57 L187.00 535.56 L188.00 535.55 L189.00 535.54 L190.00 535.53 L191.00 535.52 L192.00 535.51 L193.00 535.49 L194.00 535.48 L195.00 535.47 L196.00 535.45 L197.00 535.44 L198.00 535.42 L199.00 535.41 L200.00 535.39 L201.00 535.38 L202.00 535.36 L203.00 535.34 L204.00 535.32 L205.00 535.30 L206.00 535.29 L207.00 535.26 L208.00 535.24 L209.00 535.22 L210.00 535.20 L211.00 535.18 L212.00 535.16 L213.00 535.13 L214.00 535.11 L215.00 535.08 L216.00 535.06 L217.00 535.03 L218.00 535.00 L219.00 534.97 L220.00 534.95 L221.00 534.92 L222.00 534.89 L223.00 534.86 L224.00 534.82 L225.00 534.79 L226.00 534.76 L227.00 534.73 L228.00 534.69 L229.00 534.66 L230.00 534.62 L231.00 534.58 L232.00 534.55 L233.00 534.51 L234.00 534.47 L235.00 534.43 L236.00 534.39 L237.00 534.35 L238.00 534.31 L239.00 534.26 L240.00 534.22 L241.00 534.18 L242.00 534.13 L243.00 534.08 L244.00 534.04 L245.00 533.99 L246.00 533.94 L247.00 533.89 L248.00 533.84 L249.00 533.79 L250.00 533.74 L251.00 533.68 L252.00 533.63 L253.00 533.57 L254.00 533.52 L255.00 533.46 L256.00 533.40 L257.00 533.35 L258.00 533.29 L259.00 533.23 L260.00 533.16 L261.00 533.10 L262.00 533.04 L263.00 532.97 L264.00 532.91 L265.00 532.84 L266.00 532.78 L267.00 532.71 L268.00 532.64 L269.00 532.57 L270.00 532.50 L271.00 532.42 L272.00 532.35 L273.00 532.28 L274.00 532.20 L275.00 532.12 L276.00 532.05 L277.00 531.97 L278.00 531.89 L279.00 531.81 L280.00 531.73 L281.00 531.64 L282.00 531.56 L283.00 531.48 L284.00 531.39 L285.00 531.30 L286.00 531.21 L287.00 531.12 L288.00 531.03 L289.00 530.94 L290.00 530.85 L291.00 530.76 L292.00 530.66 L293.00 530.56 L294.00 530.47 L295.00 530.37 L296.00 530.27 L297.00 530.17 L298.00 530.06 L299.00 529.96 L300.00 529.86 L301.00 529.75 L302.00 529.64 L303.00 529.54 L304.00 529.43 L305.00 529.32 L306.00 529.20 L307.00 529.09 L308.00 528.98 L309.00 528.86 L310.00 528.74 L311.00 528.63 L312.00 528.51 L313.00 528.39 L314.00 528.27 L315.00 528.14 L316.00 528.02 L317.00 527.89 L318.00 527.77 L319.00 527.64 L320.00 527.51 L321.00 527.38 L322.00 527.25 L323.00 527.12 L324.00 526.99 L325.00 526.85 L326.00 526.72 L327.00 526.58 L328.00 526.45 L329.00 526.31 L330.00 526.17 L331.00 526.03 L332.00 525.89 L333.00 525.74 L334.00 525.60 L335.00 525.46 L336.00 525.31 L337.00 525.16 L338.00 525.02 L339.00 524.87 L340.00 524.72 L341.00 524.57 L342.00 524.42 L343.00 524.26 L344.00 524.11 L345.00 523.96 L346.00 523.80 L347.00 523.64 L348.00 523.49 L349.00 523.33 L350.00 523.17 L351.00 523.01 L352.00 522.85 L353.00 522.69 L354.00 522.52 L355.00 522.36 L356.00 522.20 L357.00 522.03 L358.00 521.86 L359.00 521.70 L360.00 521.53 L361.00 521.36 L362.00 521.19 L363.00 521.02 L364.00 520.85 L365.00 520.68 L366.00 520.51 L367.00 520.33 L368.00 520.16 L369.00 519.98 L370.00 519.81 L371.00 519.63 L372.00 519.45 L373.00 519.27 L374.00 519.09 L375.00 518.91 L376.00 518.73 L377.00 518.55 L378.00 518.37 L379.00 518.19 L380.00 518.00 L381.00 517.82 L382.00 517.64 L383.00 517.45 L384.00 517.26 L385.00 517.08 L386.00 516.89 L387.00 516.70 L388.00 516.51 L389.00 516.32 L390.00 516.13 L391.00 515.94 L392.00 515.75 L393.00 515.56 L394.00 515.37 L395.00 515.17 L396.00 514.98 L397.00 514.78 L398.00 514.59 L399.00 514.39 L400.00 514.20 L401.00 514.00 L402.00 513.80 L403.00 513.61 L404.00 513.41 L405.00 513.21 L406.00 513.01 L407.00 512.81 L408.00 512.61 L409.00 512.41 L410.00 512.21 L411.00 512.00 L412.00 511.80 L413.00 511.60 L414.00 511.40 L415.00 511.19 L416.00 510.99 L417.00 510.78 L418.00 510.58 L419.00 510.37 L420.00 510.17 L421.00 509.96 L422.00 509.75 L423.00 509.55 L424.00 509.34 L425.00 509.13 L426.00 508.92 L427.00 508.71 L428.00 508.50 L429.00 508.29 L430.00 508.08 L431.00 507.87 L432.00 507.66 L433.00 507.45 L434.00 507.24 L435.00 507.03 L436.00 506.82 L437.00 506.60 L438.00 506.39 L439.00 506.18 L440.00 505.96 L441.00 505.75 L442.00 505.54 L443.00 505.32 L444.00 505.11 L445.00 504.89 L446.00 504.68 L447.00 504.46 L448.00 504.25 L449.00 504.03 L450.00 503.82 L451.00 503.60 L452.00 503.38 L453.00 503.17 L454.00 502.95 L455.00 502.73 L456.00 502.52 L457.00 502.30 L458.00 502.08 L459.00 501.87 L460.00 501.65 L461.00 501.43 L462.00 501.21 L463.00 500.99 L464.00 500.78 L465.00 500.56 L466.00 500.34 L467.00 500.12 L468.00 499.90 L469.00 499.68 L470.00 499.47 L471.00 499.25 L472.00 499.03 L473.00 498.81 L474.00 498.59 L475.00 498.37 L476.00 498.15 L477.00 497.93 L478.00 497.71 L479.00 497.49 L480.00 497.27 L481.00 497.06 L482.00 496.84 L483.00 496.62 L484.00 496.40 L485.00 496.18 L486.00 495.96 L487.00 495.74 L488.00 495.52 L489.00 495.30 L490.00 495.08 L491.00 494.86 L492.00 494.65 L493.00 494.43 L494.00 494.21 L495.00 493.99 L496.00 493.77 L497.00 493.55 L498.00 493.33 L499.00 493.12 L500.00 492.90 L501.00 492.68 L502.00 492.46 L503.00 492.24 L504.00 492.03 L505.00 491.81 L506.00 491.59 L507.00 491.38 L508.00 491.16 L509.00 490.94 L510.00 490.73 L511.00 490.51 L512.00 490.29 L513.00 490.08 L514.00 489.86 L515.00 489.65 L516.00 489.43 L517.00 489.22 L518.00 489.00 L519.00 488.79 L520.00 488.58 L521.00 488.36 L522.00 488.15 L523.00 487.93 L524.00 487.72 L525.00 487.51 L526.00 487.30 L527.00 487.08 L528.00 486.87 L529.00 486.66 L530.00 486.45 L531.00 486.24 L532.00 486.03 L533.00 485.82 L534.00 485.61 L535.00 485.40 L536.00 485.19 L537.00 484.98 L538.00 484.78 L539.00 484.57 L540.00 484.36 L541.00 484.15 L542.00 483.95 L543.00 483.74 L544.00 483.53 L545.00 483.33 L546.00 483.12 L547.00 482.92 L548.00 482.71 L549.00 482.51 L550.00 482.30 L551.00 482.10 L552.00 481.90 L553.00 481.69 L554.00 481.49 L555.00 481.29 L556.00 481.09 L557.00 480.89 L558.00 480.69 L559.00 480.48 L560.00 480.28 L561.00 480.08 L562.00 479.88 L563.00 479.69 L564.00 479.49 L565.00 479.29 L566.00 479.09 L567.00 478.89 L568.00 478.69 L569.00 478.50 L570.00 478.30 L571.00 478.10 L572.00 477.91 L573.00 477.71 L574.00 477.52 L575.00 477.32 L576.00 477.13 L577.00 476.93 L578.00 476.74 L579.00 476.55 L580.00 476.35 L581.00 476.16 L582.00 475.97 L583.00 475.78 L584.00 475.59 L585.00 475.39 L586.00 475.20 L587.00 475.01 L588.00 474.82 L589.00 474.63 L590.00 474.45 L591.00 474.26 L592.00 474.07 L593.00 473.88 L594.00 473.69 L595.00 473.51 L596.00 473.32 L597.00 473.13 L598.00 472.95 L599.00 472.76 L600.00 472.58 L601.00 472.39 L602.00 472.21 L603.00 472.02 L604.00 471.84 L605.00 471.66 L606.00 471.47 L607.00 471.29 L608.00 471.11 L609.00 470.93 L610.00 470.74 L611.00 470.56 L612.00 470.38 L613.00 470.20 L614.00 470.02 L615.00 469.84 L616.00 469.67 L617.00 469.49 L618.00 469.31 L619.00 469.13 L620.00 468.95 L621.00 468.78 L622.00 468.60 L623.00 468.43 L624.00 468.25 L625.00 468.07 L626.00 467.90 L627.00 467.73 L628.00 467.55 L629.00 467.38 L630.00 467.21 L631.00 467.03 L632.00 466.86 L633.00 466.69 L634.00 466.52 L635.00 466.35 L636.00 466.18 L637.00 466.01 L638.00 465.84 L638.80 465.70" stroke="#aa3377" stroke-width="3.3"/>
</g>
<rect x="89" y="117" width="549.8" height="418.1" fill="none" stroke="#000" stroke-width="1.7"/>
<g stroke="#000" stroke-width="1.8">
<line x1="103.86" y1="535.1" x2="103.86" y2="527.20"/>
<line x1="133.58" y1="535.1" x2="133.58" y2="527.20"/>
<line x1="163.30" y1="535.1" x2="163.30" y2="527.20"/>
<line x1="193.02" y1="535.1" x2="193.02" y2="519.10"/>
<line x1="222.74" y1="535.1" x2="222.74" y2="527.20"/>
<line x1="252.46" y1="535.1" x2="252.46" y2="527.20"/>
<line x1="282.18" y1="535.1" x2="282.18" y2="527.20"/>
<line x1="311.90" y1="535.1" x2="311.90" y2="527.20"/>
<line x1="341.62" y1="535.1" x2="341.62" y2="519.10"/>
<line x1="371.34" y1="535.1" x2="371.34" y2="527.20"/>
<line x1="401.06" y1="535.1" x2="401.06" y2="527.20"/>
<line x1="430.78" y1="535.1" x2="430.78" y2="527.20"/>
<line x1="460.50" y1="535.1" x2="460.50" y2="527.20"/>
<line x1="490.22" y1="535.1" x2="490.22" y2="519.10"/>
<line x1="519.94" y1="535.1" x2="519.94" y2="527.20"/>
<line x1="549.66" y1="535.1" x2="549.66" y2="527.20"/>
<line x1="579.38" y1="535.1" x2="579.38" y2="527.20"/>
<line x1="609.10" y1="535.1" x2="609.10" y2="527.20"/>
<line x1="638.82" y1="535.1" x2="638.82" y2="519.10"/>
<line x1="89" y1="535.10" x2="102.40" y2="535.10"/>
<line x1="89" y1="499.34" x2="95.80" y2="499.34"/>
<line x1="89" y1="463.58" x2="95.80" y2="463.58"/>
<line x1="89" y1="427.82" x2="95.80" y2="427.82"/>
<line x1="89" y1="392.06" x2="95.80" y2="392.06"/>
<line x1="89" y1="356.30" x2="102.40" y2="356.30"/>
<line x1="89" y1="320.54" x2="95.80" y2="320.54"/>
<line x1="89" y1="284.78" x2="95.80" y2="284.78"/>
<line x1="89" y1="249.02" x2="95.80" y2="249.02"/>
<line x1="89" y1="213.26" x2="95.80" y2="213.26"/>
<line x1="89" y1="177.50" x2="102.40" y2="177.50"/>
<line x1="89" y1="141.74" x2="95.80" y2="141.74"/>
</g>
<!-- legend lines -->
<g fill="none">
<line x1="1" y1="8.9" x2="57.7" y2="8.9" stroke="#000" stroke-width="4.5"/>
<line x1="1" y1="49.6" x2="57.7" y2="49.6" stroke="#4477aa" stroke-width="3.3"/>
<line x1="1" y1="90.2" x2="57.7" y2="90.2" stroke="#ee6677" stroke-width="3.4"/>
<line x1="308.5" y1="9.1" x2="365.9" y2="9.1" stroke="#000" stroke-width="4.0" stroke-dasharray="3.1 2.54"/>
<line x1="308.5" y1="49.6" x2="365.9" y2="49.6" stroke="#4477aa" stroke-width="3.2" stroke-dasharray="3.0 2.64"/>
<line x1="308.2" y1="90.2" x2="365.9" y2="90.2" stroke="#aa3377" stroke-width="3.3"/>
</g>
<rect x="299.1" y="140.1" width="40.9" height="34.3" fill="#cccccc"/>
<line x1="299.1" y1="157.5" x2="340" y2="157.5" stroke="#fff" stroke-width="2.8"/>
<text font-size="27.8" textLength="142.49" lengthAdjust="spacingAndGlyphs" x="78.72" y="18.6">CC Inclusive</text>
<text font-size="27.8" textLength="187.2" lengthAdjust="spacingAndGlyphs" x="78.85" y="59.5">CC Quasi-elastic</text>
<text font-size="27.8" textLength="183.52" lengthAdjust="spacingAndGlyphs" x="78.76" y="99.7">CC Resonant 1<tspan font-style='italic'>π</tspan></text>
<text font-size="27.8" textLength="143.54" lengthAdjust="spacingAndGlyphs" x="386.59" y="18.6">NC Inclusive</text>
<text font-size="27.8" textLength="99.15" lengthAdjust="spacingAndGlyphs" x="386.72" y="59.5">CC 2p2h</text>
<text font-size="27.8" textLength="205.19" lengthAdjust="spacingAndGlyphs" x="386.82" y="100.25">CC Multi-<tspan font-style='italic'>π</tspan> + DIS</text>
<text font-size="26.8" textLength="13.71" lengthAdjust="spacingAndGlyphs" x="63.29" y="186.5">1</text>
<text font-size="26.8" textLength="33.52" lengthAdjust="spacingAndGlyphs" x="43.77" y="365.3">0.5</text>
<text font-size="26.8" textLength="14.47" lengthAdjust="spacingAndGlyphs" x="63.2" y="544.0">0</text>
<text font-size="32.5" textLength="38.63" lengthAdjust="spacingAndGlyphs" x="173.69" y="570.15">0.5</text>
<text font-size="32.5" textLength="15.84" lengthAdjust="spacingAndGlyphs" x="333.34" y="569.87">1</text>
<text font-size="32.5" textLength="38.5" lengthAdjust="spacingAndGlyphs" x="470.08" y="570.15">1.5</text>
<text font-size="32.5" textLength="16.85" lengthAdjust="spacingAndGlyphs" x="630.62" y="569.94">2</text>
<text font-size="29.5" font-style="italic" textLength="24.13" lengthAdjust="spacingAndGlyphs" x="503.24" y="604.05">E</text>
<text font-size="26.94" font-style="italic" textLength="11.65" lengthAdjust="spacingAndGlyphs" x="524.62" y="610.29">ν</text>
<text font-size="29.5" textLength="59.27" lengthAdjust="spacingAndGlyphs" x="558.88" y="604.05">GeV</text>
<text font-size="32.92" textLength="9.12" lengthAdjust="spacingAndGlyphs" x="549.88" y="606.03">(</text>
<text font-size="32.93" textLength="9.95" lengthAdjust="spacingAndGlyphs" x="617.67" y="606.02">)</text>
<text font-size="29.71" textLength="15.55" lengthAdjust="spacingAndGlyphs" x="357.76" y="169.25">Φ</text>
<text font-size="15.32" font-style="italic" textLength="8.92" lengthAdjust="spacingAndGlyphs" x="375.95" y="154.12">ν</text>
<text font-size="12.28" font-style="italic" textLength="8.67" lengthAdjust="spacingAndGlyphs" x="386.79" y="157.53">μ</text>
<text font-size="13.5" textLength="33.79" lengthAdjust="spacingAndGlyphs" x="376.48" y="171.8">T2K</text>
<text font-size="30.72" textLength="19.17" lengthAdjust="spacingAndGlyphs" x="417.08" y="172.78">×</text>
<text font-size="27.15" font-style="italic" textLength="19.17" lengthAdjust="spacingAndGlyphs" x="444.27" y="168.25">P</text>
<text font-size="17.68" font-style="italic" textLength="9.7" lengthAdjust="spacingAndGlyphs" x="462.74" y="154.56">ν</text>
<text font-size="11.96" font-style="italic" textLength="9.5" lengthAdjust="spacingAndGlyphs" x="473.51" y="158.0">μ</text>
<text font-size="17.68" font-style="italic" textLength="10.37" lengthAdjust="spacingAndGlyphs" x="504.03" y="154.48">ν</text>
<text font-size="11.96" font-style="italic" textLength="10.16" lengthAdjust="spacingAndGlyphs" x="515.48" y="158.03">μ</text>
<text font-size="13.75" textLength="32.29" lengthAdjust="spacingAndGlyphs" x="458.91" y="172.84">Osc.</text>
<g transform="rotate(-90)">
<text font-size="26.8" font-style="italic" textLength="14.39" lengthAdjust="spacingAndGlyphs" x="-601.86" y="23.14">σ</text>
<text font-size="15.69" textLength="11.78" lengthAdjust="spacingAndGlyphs" x="-587.23" y="25.95">H</text>
<text font-size="12.86" textLength="7.23" lengthAdjust="spacingAndGlyphs" x="-576.73" y="27.44">2</text>
<text font-size="17.94" textLength="11.97" lengthAdjust="spacingAndGlyphs" x="-564.27" y="27.15">O</text>
<text font-size="29.57" textLength="8.26" lengthAdjust="spacingAndGlyphs" x="-548.7" y="22.07">(</text>
<text font-size="26.8" font-style="italic" textLength="18.86" lengthAdjust="spacingAndGlyphs" x="-539.12" y="21.05">E</text>
<text font-size="18.56" font-style="italic" textLength="9.9" lengthAdjust="spacingAndGlyphs" x="-520.68" y="25.49">ν</text>
<text font-size="29.0" textLength="8.43" lengthAdjust="spacingAndGlyphs" x="-508.73" y="21.71">)</text>
<text font-size="39.76" textLength="10.66" lengthAdjust="spacingAndGlyphs" x="-497.89" y="27.71">/</text>
<text font-size="26.8" font-style="italic" textLength="18.86" lengthAdjust="spacingAndGlyphs" x="-485.02" y="21.35">E</text>
<text font-size="17.9" font-style="italic" textLength="9.67" lengthAdjust="spacingAndGlyphs" x="-466.79" y="25.6">ν</text>
<text font-size="26.8" textLength="25.62" lengthAdjust="spacingAndGlyphs" x="-446.42" y="21.78">10</text>
<text font-size="18.91" textLength="35.09" lengthAdjust="spacingAndGlyphs" x="-419.72" y="13.07">−38</text>
<text font-size="26.8" textLength="32.46" lengthAdjust="spacingAndGlyphs" x="-383.02" y="22.45">cm</text>
<text font-size="17.96" textLength="26.72" lengthAdjust="spacingAndGlyphs" x="-350.86" y="12.68">−2</text>
<text font-size="40.71" textLength="10.75" lengthAdjust="spacingAndGlyphs" x="-314.45" y="27.91">/</text>
<text font-size="26.8" textLength="47.46" lengthAdjust="spacingAndGlyphs" x="-293.94" y="21.55">GeV</text>
<text font-size="39.92" textLength="10.66" lengthAdjust="spacingAndGlyphs" x="-236.09" y="27.66">/</text>
<text font-size="26.8" textLength="90.49" lengthAdjust="spacingAndGlyphs" x="-216.63" y="22.05">Nucleon</text>
</g>
<path d="M485.8 151.3 L502.2 151.3 M498.3 148.1 Q500 150.6 502.7 151.3 Q500 152 498.3 154.5" fill="none" stroke="#000" stroke-width="0.9"/>
</svg>
</body></html>
